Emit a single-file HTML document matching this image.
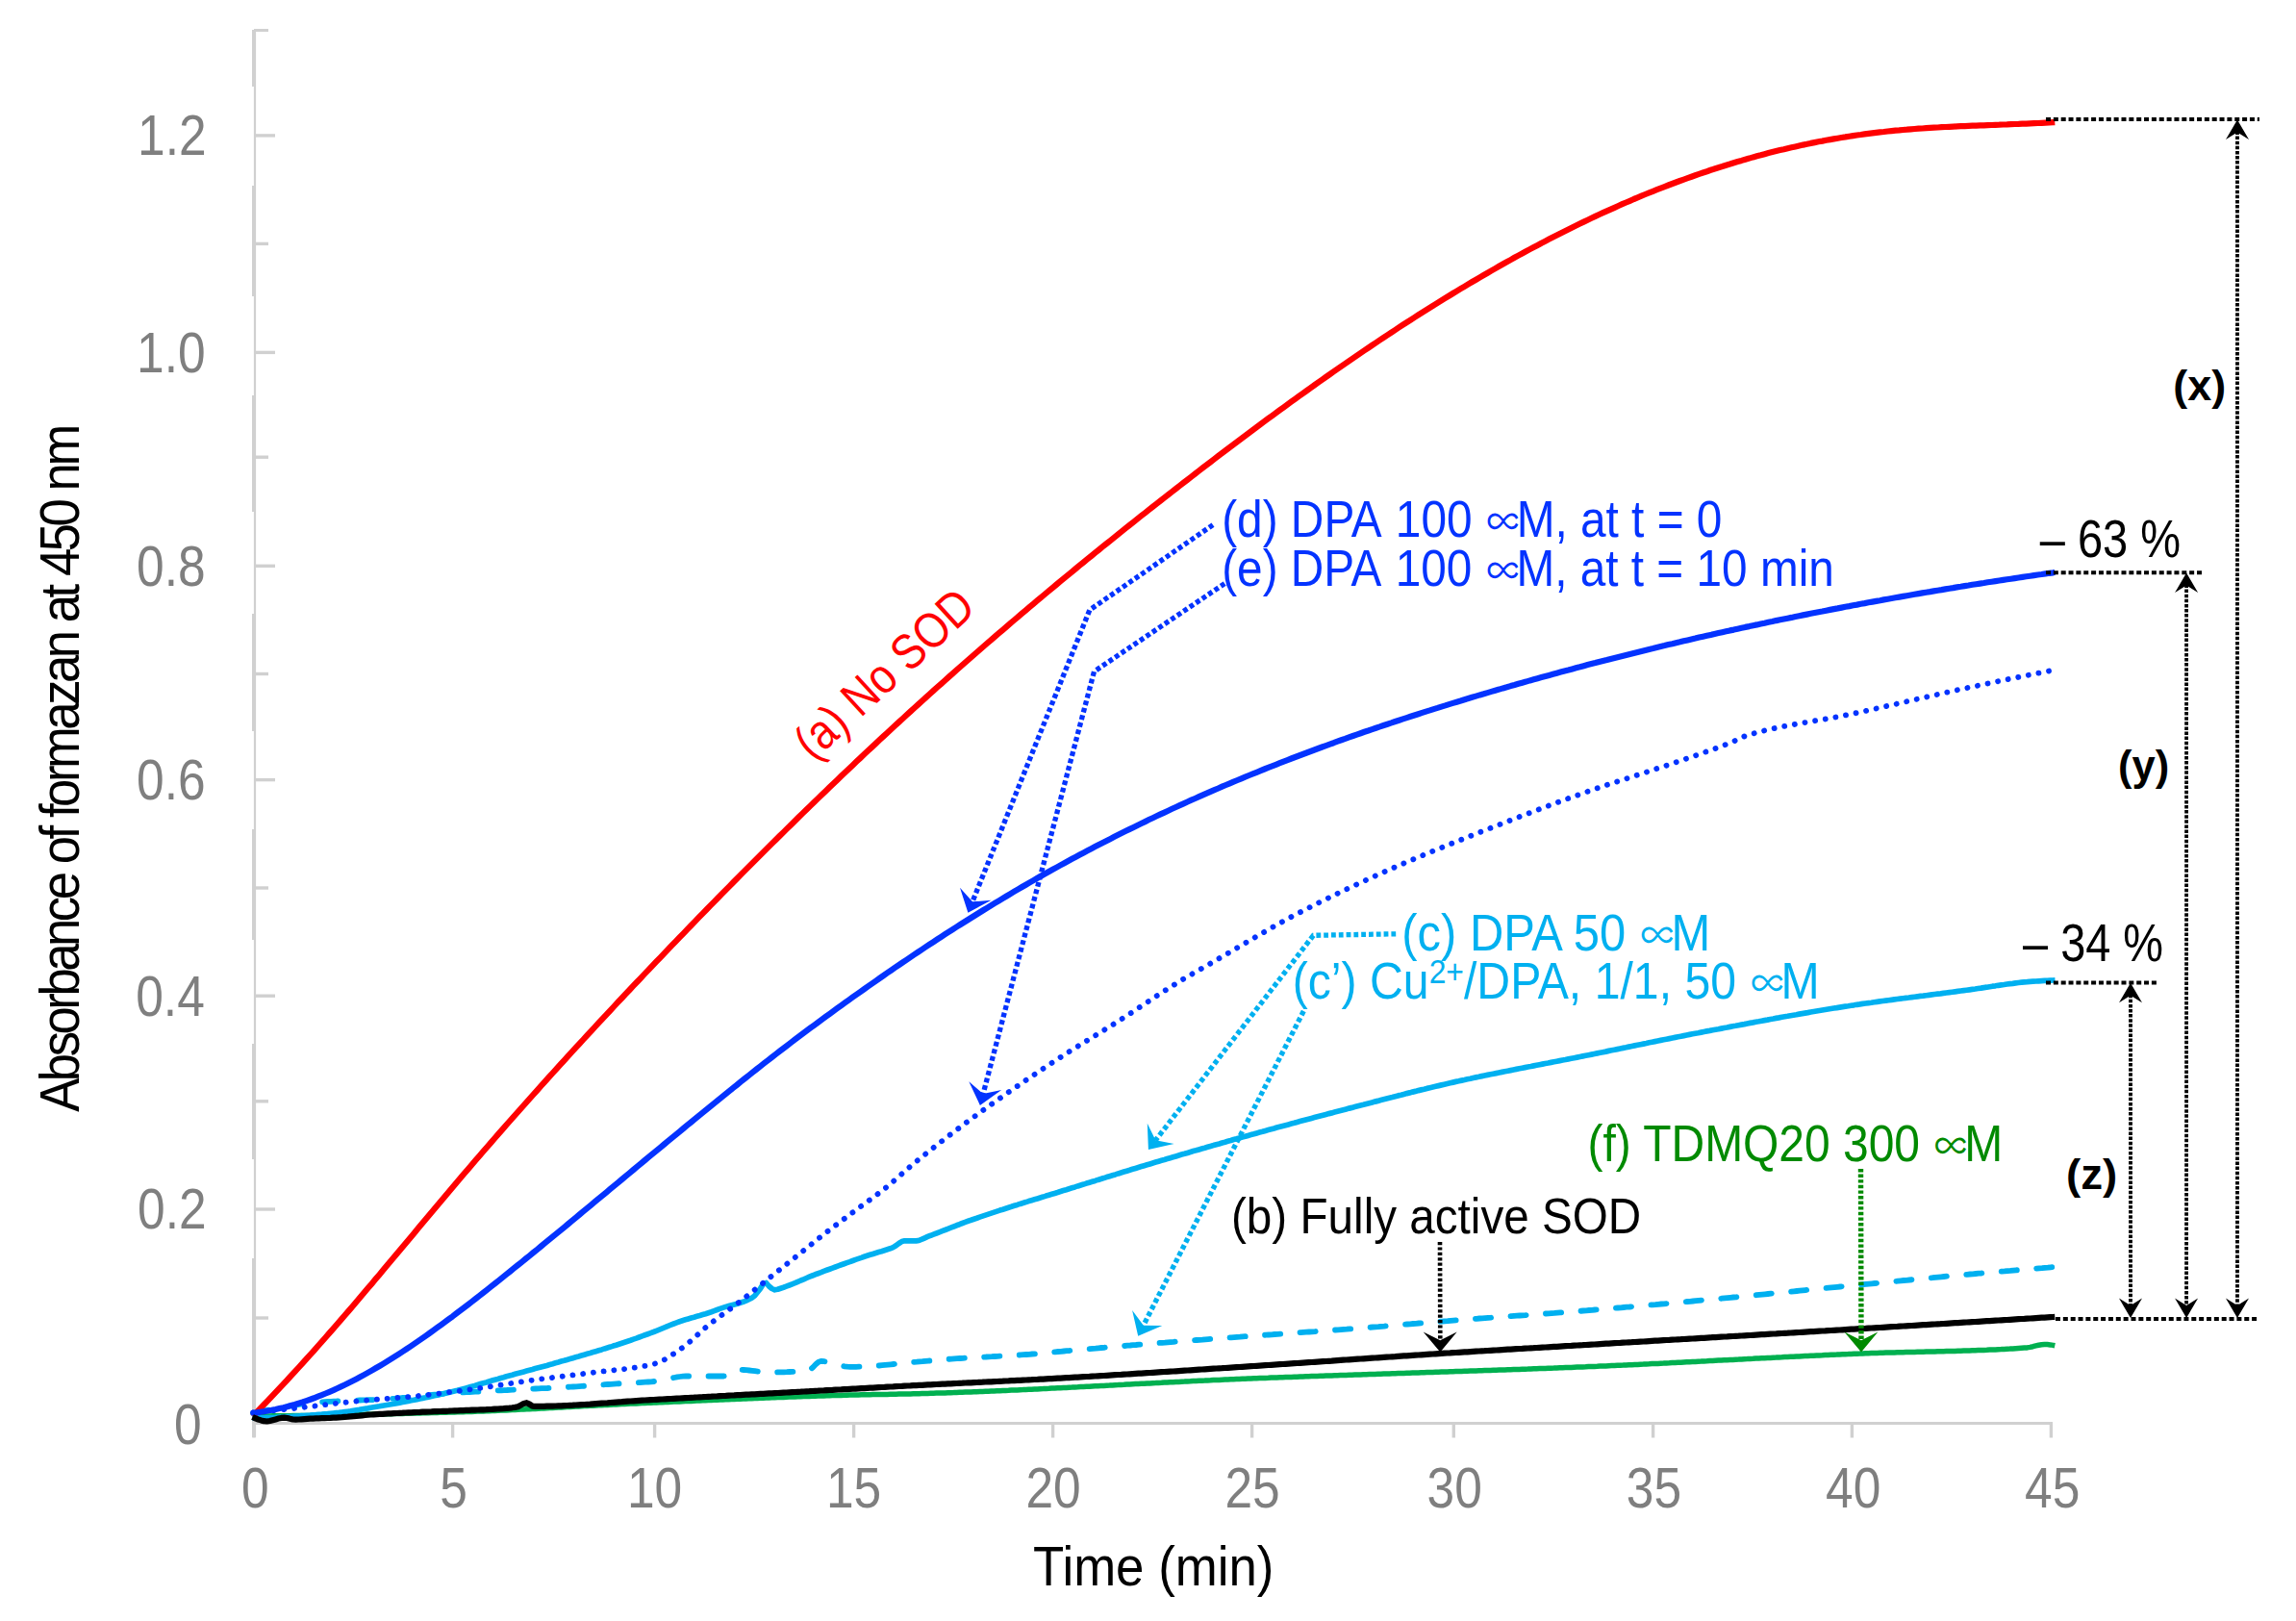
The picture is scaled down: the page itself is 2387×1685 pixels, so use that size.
<!DOCTYPE html>
<html><head><meta charset="utf-8"><title>Absorbance of formazan at 450 nm</title>
<style>html,body{margin:0;padding:0;background:#fff}svg text{font-family:"Liberation Sans", "DejaVu Sans", sans-serif;}.pr{font-family:"Liberation Sans","IPAGothic",sans-serif;font-size:0.8em}</style></head>
<body>
<svg width="2387" height="1685" viewBox="0 0 2387 1685" style="display:block">
<rect width="2387" height="1685" fill="#fff"/>
<g stroke="#d0d0d0" fill="none">
<path d="M265,31 V1494" stroke-width="2.2"/>
<path d="M264,31 V90" stroke-width="4"/>
<path d="M264,193 V308" stroke-width="4"/>
<path d="M264,411 V532" stroke-width="4"/>
<path d="M264,638 V760" stroke-width="4"/>
<path d="M264,862 V977" stroke-width="4"/>
<path d="M264,1085 V1205" stroke-width="4"/>
<path d="M264,1308 V1494" stroke-width="4"/>
<path d="M264,31.5 H279" stroke-width="3"/>
<path d="M265,140.9 H286" stroke-width="3.4"/>
<path d="M265,253.4 H279" stroke-width="3.4"/>
<path d="M265,366.4 H286" stroke-width="3.4"/>
<path d="M265,475.2 H279" stroke-width="3.4"/>
<path d="M265,588.3 H286" stroke-width="3.4"/>
<path d="M265,700.5 H279" stroke-width="3.4"/>
<path d="M265,810.6 H286" stroke-width="3.4"/>
<path d="M265,923.0 H279" stroke-width="3.4"/>
<path d="M265,1035.2 H286" stroke-width="3.4"/>
<path d="M265,1144.8 H279" stroke-width="3.4"/>
<path d="M265,1257.0 H286" stroke-width="3.4"/>
<path d="M265,1370.0 H279" stroke-width="3.4"/>
<path d="M263,1479.5 H2134" stroke-width="3.2"/>
<path d="M264,1479 V1494.5" stroke-width="3.4"/>
<path d="M470.6,1479 V1494.5" stroke-width="3.4"/>
<path d="M680.6,1479 V1494.5" stroke-width="3.4"/>
<path d="M887.6,1479 V1494.5" stroke-width="3.4"/>
<path d="M1094.6,1479 V1494.5" stroke-width="3.4"/>
<path d="M1301.6,1479 V1494.5" stroke-width="3.4"/>
<path d="M1511.3,1479 V1494.5" stroke-width="3.4"/>
<path d="M1718.6,1479 V1494.5" stroke-width="3.4"/>
<path d="M1925.4,1479 V1494.5" stroke-width="3.4"/>
<path d="M2132.4,1479 V1494.5" stroke-width="3.4"/>
</g>
<g fill="none" stroke-linejoin="round">
<path d="M262.5,1472.0 L265.5,1472.0 L268.5,1472.0 L271.5,1471.9 L274.5,1471.9 L277.5,1471.9 L280.5,1471.9 L283.5,1471.8 L286.5,1471.8 L289.5,1471.8 L292.5,1471.8 L295.5,1471.7 L298.5,1471.7 L301.5,1471.7 L304.5,1471.6 L307.5,1471.6 L310.5,1471.5 L313.5,1471.5 L316.5,1471.5 L319.5,1471.4 L322.5,1471.4 L325.5,1471.3 L328.5,1471.3 L331.5,1471.2 L334.5,1471.2 L337.5,1471.1 L340.5,1471.1 L343.5,1471.0 L346.5,1471.0 L349.5,1470.9 L352.5,1470.8 L355.5,1470.8 L358.5,1470.7 L361.5,1470.7 L364.5,1470.6 L367.5,1470.5 L370.5,1470.5 L373.5,1470.4 L376.5,1470.4 L379.5,1470.3 L382.5,1470.2 L385.5,1470.2 L388.5,1470.1 L391.5,1470.0 L394.5,1469.9 L397.5,1469.9 L400.5,1469.8 L403.5,1469.7 L406.5,1469.7 L409.5,1469.6 L412.5,1469.5 L415.5,1469.4 L418.5,1469.4 L421.5,1469.3 L424.5,1469.2 L427.5,1469.1 L430.5,1469.1 L433.5,1469.0 L436.5,1468.9 L439.5,1468.8 L442.5,1468.7 L445.5,1468.7 L448.5,1468.6 L451.5,1468.5 L454.5,1468.4 L457.5,1468.3 L460.5,1468.3 L463.5,1468.2 L466.5,1468.1 L469.5,1468.0 L472.5,1467.9 L475.5,1467.8 L478.5,1467.8 L481.5,1467.7 L484.5,1467.6 L487.5,1467.5 L490.5,1467.4 L493.5,1467.2 L496.5,1467.1 L499.5,1467.0 L502.5,1466.9 L505.5,1466.8 L508.5,1466.7 L511.5,1466.5 L514.5,1466.4 L517.5,1466.3 L520.5,1466.1 L523.5,1466.0 L526.5,1465.9 L529.5,1465.7 L532.5,1465.6 L535.5,1465.4 L538.5,1465.3 L541.5,1465.1 L544.5,1465.0 L547.5,1464.8 L550.5,1464.7 L553.5,1464.5 L556.5,1464.4 L559.5,1464.2 L562.5,1464.1 L565.5,1463.9 L568.5,1463.8 L571.5,1463.6 L574.5,1463.4 L577.5,1463.3 L580.5,1463.1 L583.5,1463.0 L586.5,1462.8 L589.5,1462.6 L592.5,1462.5 L595.5,1462.3 L598.5,1462.1 L601.5,1462.0 L604.5,1461.8 L607.5,1461.6 L610.5,1461.5 L613.5,1461.3 L616.5,1461.2 L619.5,1461.0 L622.5,1460.8 L625.5,1460.7 L628.5,1460.5 L631.5,1460.4 L634.5,1460.2 L637.5,1460.0 L640.5,1459.9 L643.5,1459.7 L646.5,1459.6 L649.5,1459.4 L652.5,1459.3 L655.5,1459.1 L658.5,1459.0 L661.5,1458.9 L664.5,1458.7 L667.5,1458.6 L670.5,1458.4 L673.5,1458.3 L676.5,1458.2 L679.5,1458.0 L682.5,1457.9 L685.5,1457.8 L688.5,1457.7 L691.5,1457.5 L694.5,1457.4 L697.5,1457.3 L700.5,1457.1 L703.5,1457.0 L706.5,1456.9 L709.5,1456.8 L712.5,1456.6 L715.5,1456.5 L718.5,1456.4 L721.5,1456.2 L724.5,1456.1 L727.5,1456.0 L730.5,1455.8 L733.5,1455.7 L736.5,1455.6 L739.5,1455.4 L742.5,1455.3 L745.5,1455.2 L748.5,1455.1 L751.5,1454.9 L754.5,1454.8 L757.5,1454.7 L760.5,1454.5 L763.5,1454.4 L766.5,1454.3 L769.5,1454.2 L772.5,1454.0 L775.5,1453.9 L778.5,1453.8 L781.5,1453.7 L784.5,1453.5 L787.5,1453.4 L790.5,1453.3 L793.5,1453.2 L796.5,1453.1 L799.5,1452.9 L802.5,1452.8 L805.5,1452.7 L808.5,1452.6 L811.5,1452.5 L814.5,1452.4 L817.5,1452.2 L820.5,1452.1 L823.5,1452.0 L826.5,1451.9 L829.5,1451.8 L832.5,1451.7 L835.5,1451.6 L838.5,1451.5 L841.5,1451.4 L844.5,1451.3 L847.5,1451.2 L850.5,1451.1 L853.5,1451.0 L856.5,1450.9 L859.5,1450.8 L862.5,1450.7 L865.5,1450.6 L868.5,1450.5 L871.5,1450.5 L874.5,1450.4 L877.5,1450.3 L880.5,1450.2 L883.5,1450.1 L886.5,1450.1 L889.5,1450.0 L892.5,1449.9 L895.5,1449.8 L898.5,1449.8 L901.5,1449.7 L904.5,1449.7 L907.5,1449.6 L910.5,1449.6 L913.5,1449.5 L916.5,1449.5 L919.5,1449.4 L922.5,1449.4 L925.5,1449.3 L928.5,1449.2 L931.5,1449.2 L934.5,1449.1 L937.5,1449.1 L940.5,1449.0 L943.5,1449.0 L946.5,1448.9 L949.5,1448.8 L952.5,1448.7 L955.5,1448.7 L958.5,1448.6 L961.5,1448.5 L964.5,1448.4 L967.5,1448.3 L970.5,1448.2 L973.5,1448.1 L976.5,1448.0 L979.5,1448.0 L982.5,1447.9 L985.5,1447.8 L988.5,1447.7 L991.5,1447.6 L994.5,1447.4 L997.5,1447.3 L1000.5,1447.2 L1003.5,1447.1 L1006.5,1447.0 L1009.5,1446.9 L1012.5,1446.8 L1015.5,1446.7 L1018.5,1446.5 L1021.5,1446.4 L1024.5,1446.3 L1027.5,1446.2 L1030.5,1446.0 L1033.5,1445.9 L1036.5,1445.8 L1039.5,1445.7 L1042.5,1445.5 L1045.5,1445.4 L1048.5,1445.3 L1051.5,1445.1 L1054.5,1445.0 L1057.5,1444.9 L1060.5,1444.7 L1063.5,1444.6 L1066.5,1444.4 L1069.5,1444.3 L1072.5,1444.2 L1075.5,1444.0 L1078.5,1443.9 L1081.5,1443.7 L1084.5,1443.6 L1087.5,1443.4 L1090.5,1443.3 L1093.5,1443.1 L1096.5,1443.0 L1099.5,1442.8 L1102.5,1442.7 L1105.5,1442.5 L1108.5,1442.4 L1111.5,1442.2 L1114.5,1442.1 L1117.5,1441.9 L1120.5,1441.8 L1123.5,1441.6 L1126.5,1441.5 L1129.5,1441.3 L1132.5,1441.2 L1135.5,1441.0 L1138.5,1440.8 L1141.5,1440.7 L1144.5,1440.5 L1147.5,1440.4 L1150.5,1440.2 L1153.5,1440.1 L1156.5,1439.9 L1159.5,1439.7 L1162.5,1439.6 L1165.5,1439.4 L1168.5,1439.3 L1171.5,1439.1 L1174.5,1439.0 L1177.5,1438.8 L1180.5,1438.6 L1183.5,1438.5 L1186.5,1438.3 L1189.5,1438.2 L1192.5,1438.0 L1195.5,1437.9 L1198.5,1437.7 L1201.5,1437.6 L1204.5,1437.4 L1207.5,1437.3 L1210.5,1437.1 L1213.5,1437.0 L1216.5,1436.8 L1219.5,1436.7 L1222.5,1436.5 L1225.5,1436.4 L1228.5,1436.2 L1231.5,1436.1 L1234.5,1435.9 L1237.5,1435.8 L1240.5,1435.6 L1243.5,1435.5 L1246.5,1435.3 L1249.5,1435.2 L1252.5,1435.1 L1255.5,1434.9 L1258.5,1434.8 L1261.5,1434.6 L1264.5,1434.5 L1267.5,1434.4 L1270.5,1434.2 L1273.5,1434.1 L1276.5,1434.0 L1279.5,1433.8 L1282.5,1433.7 L1285.5,1433.6 L1288.5,1433.5 L1291.5,1433.3 L1294.5,1433.2 L1297.5,1433.1 L1300.5,1433.0 L1303.5,1432.8 L1306.5,1432.7 L1309.5,1432.6 L1312.5,1432.5 L1315.5,1432.4 L1318.5,1432.3 L1321.5,1432.1 L1324.5,1432.0 L1327.5,1431.9 L1330.5,1431.8 L1333.5,1431.7 L1336.5,1431.6 L1339.5,1431.5 L1342.5,1431.4 L1345.5,1431.3 L1348.5,1431.2 L1351.5,1431.0 L1354.5,1430.9 L1357.5,1430.8 L1360.5,1430.7 L1363.5,1430.6 L1366.5,1430.5 L1369.5,1430.4 L1372.5,1430.3 L1375.5,1430.2 L1378.5,1430.1 L1381.5,1430.0 L1384.5,1429.9 L1387.5,1429.8 L1390.5,1429.7 L1393.5,1429.6 L1396.5,1429.5 L1399.5,1429.4 L1402.5,1429.3 L1405.5,1429.2 L1408.5,1429.1 L1411.5,1429.0 L1414.5,1428.9 L1417.5,1428.8 L1420.5,1428.7 L1423.5,1428.6 L1426.5,1428.5 L1429.5,1428.4 L1432.5,1428.3 L1435.5,1428.2 L1438.5,1428.1 L1441.5,1428.0 L1444.5,1427.9 L1447.5,1427.8 L1450.5,1427.7 L1453.5,1427.6 L1456.5,1427.5 L1459.5,1427.4 L1462.5,1427.3 L1465.5,1427.2 L1468.5,1427.1 L1471.5,1427.0 L1474.5,1426.9 L1477.5,1426.8 L1480.5,1426.7 L1483.5,1426.6 L1486.5,1426.5 L1489.5,1426.4 L1492.5,1426.3 L1495.5,1426.2 L1498.5,1426.1 L1501.5,1426.0 L1504.5,1425.9 L1507.5,1425.8 L1510.5,1425.7 L1513.5,1425.6 L1516.5,1425.5 L1519.5,1425.4 L1522.5,1425.3 L1525.5,1425.2 L1528.5,1425.1 L1531.5,1425.0 L1534.5,1424.9 L1537.5,1424.8 L1540.5,1424.7 L1543.5,1424.6 L1546.5,1424.5 L1549.5,1424.4 L1552.5,1424.3 L1555.5,1424.2 L1558.5,1424.1 L1561.5,1424.0 L1564.5,1423.9 L1567.5,1423.8 L1570.5,1423.7 L1573.5,1423.6 L1576.5,1423.5 L1579.5,1423.4 L1582.5,1423.3 L1585.5,1423.2 L1588.5,1423.1 L1591.5,1422.9 L1594.5,1422.8 L1597.5,1422.7 L1600.5,1422.6 L1603.5,1422.5 L1606.5,1422.4 L1609.5,1422.3 L1612.5,1422.2 L1615.5,1422.1 L1618.5,1421.9 L1621.5,1421.8 L1624.5,1421.7 L1627.5,1421.6 L1630.5,1421.5 L1633.5,1421.4 L1636.5,1421.2 L1639.5,1421.1 L1642.5,1421.0 L1645.5,1420.9 L1648.5,1420.8 L1651.5,1420.6 L1654.5,1420.5 L1657.5,1420.4 L1660.5,1420.3 L1663.5,1420.1 L1666.5,1420.0 L1669.5,1419.9 L1672.5,1419.7 L1675.5,1419.6 L1678.5,1419.5 L1681.5,1419.3 L1684.5,1419.2 L1687.5,1419.1 L1690.5,1418.9 L1693.5,1418.8 L1696.5,1418.7 L1699.5,1418.5 L1702.5,1418.4 L1705.5,1418.2 L1708.5,1418.1 L1711.5,1417.9 L1714.5,1417.8 L1717.5,1417.6 L1720.5,1417.5 L1723.5,1417.4 L1726.5,1417.2 L1729.5,1417.1 L1732.5,1416.9 L1735.5,1416.8 L1738.5,1416.6 L1741.5,1416.5 L1744.5,1416.3 L1747.5,1416.2 L1750.5,1416.0 L1753.5,1415.8 L1756.5,1415.7 L1759.5,1415.5 L1762.5,1415.4 L1765.5,1415.2 L1768.5,1415.1 L1771.5,1414.9 L1774.5,1414.8 L1777.5,1414.6 L1780.5,1414.5 L1783.5,1414.3 L1786.5,1414.1 L1789.5,1414.0 L1792.5,1413.8 L1795.5,1413.7 L1798.5,1413.5 L1801.5,1413.4 L1804.5,1413.2 L1807.5,1413.1 L1810.5,1412.9 L1813.5,1412.7 L1816.5,1412.6 L1819.5,1412.4 L1822.5,1412.3 L1825.5,1412.1 L1828.5,1412.0 L1831.5,1411.8 L1834.5,1411.7 L1837.5,1411.5 L1840.5,1411.4 L1843.5,1411.2 L1846.5,1411.1 L1849.5,1410.9 L1852.5,1410.8 L1855.5,1410.6 L1858.5,1410.5 L1861.5,1410.3 L1864.5,1410.2 L1867.5,1410.0 L1870.5,1409.9 L1873.5,1409.7 L1876.5,1409.6 L1879.5,1409.5 L1882.5,1409.3 L1885.5,1409.2 L1888.5,1409.0 L1891.5,1408.9 L1894.5,1408.8 L1897.5,1408.6 L1900.5,1408.5 L1903.5,1408.3 L1906.5,1408.2 L1909.5,1408.1 L1912.5,1407.9 L1915.5,1407.8 L1918.5,1407.7 L1921.5,1407.6 L1924.5,1407.4 L1927.5,1407.3 L1930.5,1407.2 L1933.5,1407.1 L1936.5,1406.9 L1939.5,1406.8 L1942.5,1406.7 L1945.5,1406.6 L1948.5,1406.5 L1951.5,1406.4 L1954.5,1406.3 L1957.5,1406.2 L1960.5,1406.1 L1963.5,1406.0 L1966.5,1406.0 L1969.5,1405.9 L1972.5,1405.8 L1975.5,1405.7 L1978.5,1405.7 L1981.5,1405.6 L1984.5,1405.5 L1987.5,1405.4 L1990.5,1405.4 L1993.5,1405.3 L1996.5,1405.2 L1999.5,1405.2 L2002.5,1405.1 L2005.5,1405.0 L2008.5,1405.0 L2011.5,1404.9 L2014.5,1404.8 L2017.5,1404.8 L2020.5,1404.7 L2023.5,1404.6 L2026.5,1404.5 L2029.5,1404.5 L2032.5,1404.4 L2035.5,1404.3 L2038.5,1404.2 L2041.5,1404.1 L2044.5,1404.0 L2047.5,1403.9 L2050.5,1403.8 L2053.5,1403.7 L2056.5,1403.6 L2059.5,1403.5 L2062.5,1403.4 L2065.5,1403.3 L2068.5,1403.1 L2071.5,1403.0 L2074.5,1402.9 L2077.5,1402.7 L2080.5,1402.6 L2083.5,1402.4 L2086.5,1402.2 L2089.5,1402.1 L2092.5,1401.9 L2095.5,1401.7 L2098.5,1401.5 L2101.5,1401.3 L2104.5,1401.1 L2107.5,1400.9 L2110.5,1400.4 L2113.5,1399.7 L2116.5,1398.9 L2119.5,1398.2 L2122.5,1397.7 L2125.5,1397.5 L2128.5,1397.6 L2131.5,1397.9 L2134.5,1398.4 L2136.3,1398.8" stroke="#00b050" stroke-width="5.5"/>
<path d="M263.0,1469.0 L266.0,1468.3 L269.0,1467.7 L272.0,1467.0 L275.0,1466.4 L278.0,1465.8 L281.0,1465.2 L284.0,1464.6 L287.0,1464.0 L290.0,1463.4 L293.0,1462.9 L296.0,1462.3 L299.0,1461.8 L302.0,1461.3 L305.0,1460.8 L308.0,1460.4 L311.0,1459.9 L314.0,1459.5 L317.0,1459.1 L320.0,1458.8 L323.0,1458.4 L326.0,1458.1 L329.0,1457.8 L332.0,1457.6 L335.0,1457.3 L338.0,1457.1 L341.0,1456.9 L344.0,1456.8 L347.0,1456.6 L350.0,1456.5 L353.0,1456.3 L356.0,1456.2 L359.0,1456.1 L362.0,1456.0 L365.0,1455.9 L368.0,1455.7 L371.0,1455.6 L374.0,1455.5 L377.0,1455.4 L380.0,1455.3 L383.0,1455.2 L386.0,1455.1 L389.0,1455.0 L392.0,1454.8 L395.0,1454.7 L398.0,1454.5 L401.0,1454.4 L404.0,1454.2 L407.0,1454.0 L410.0,1453.8 L413.0,1453.5 L416.0,1453.3 L419.0,1453.0 L422.0,1452.8 L425.0,1452.5 L428.0,1452.2 L431.0,1451.9 L434.0,1451.6 L437.0,1451.3 L440.0,1450.9 L443.0,1450.6 L446.0,1450.3 L449.0,1450.0 L452.0,1449.7 L455.0,1449.5 L458.0,1449.2 L461.0,1448.9 L464.0,1448.7 L467.0,1448.4 L470.0,1448.2 L473.0,1448.0 L476.0,1447.8 L479.0,1447.6 L482.0,1447.4 L485.0,1447.2 L488.0,1447.1 L491.0,1446.9 L494.0,1446.7 L497.0,1446.6 L500.0,1446.4 L503.0,1446.2 L506.0,1446.1 L509.0,1445.9 L512.0,1445.8 L515.0,1445.6 L518.0,1445.4 L521.0,1445.3 L524.0,1445.1 L527.0,1445.0 L530.0,1444.8 L533.0,1444.7 L536.0,1444.5 L539.0,1444.4 L542.0,1444.2 L545.0,1444.1 L548.0,1443.9 L551.0,1443.8 L554.0,1443.7 L557.0,1443.5 L560.0,1443.4 L563.0,1443.2 L566.0,1443.1 L569.0,1443.0 L572.0,1442.8 L575.0,1442.7 L578.0,1442.5 L581.0,1442.3 L584.0,1442.2 L587.0,1442.0 L590.0,1441.8 L593.0,1441.7 L596.0,1441.5 L599.0,1441.3 L602.0,1441.1 L605.0,1440.9 L608.0,1440.7 L611.0,1440.5 L614.0,1440.3 L617.0,1440.1 L620.0,1439.9 L623.0,1439.7 L626.0,1439.5 L629.0,1439.2 L632.0,1439.0 L635.0,1438.8 L638.0,1438.6 L641.0,1438.4 L644.0,1438.2 L647.0,1438.1 L650.0,1437.9 L653.0,1437.7 L656.0,1437.6 L659.0,1437.4 L662.0,1437.2 L665.0,1437.1 L668.0,1436.9 L671.0,1436.7 L674.0,1436.5 L677.0,1436.3 L680.0,1436.0 L683.0,1435.7 L686.0,1435.2 L689.0,1434.7 L692.0,1434.0 L695.0,1433.3 L698.0,1432.6 L701.0,1432.0 L704.0,1431.4 L707.0,1431.0 L710.0,1430.6 L713.0,1430.5 L716.0,1430.5 L719.0,1430.5 L722.0,1430.5 L725.0,1430.5 L728.0,1430.5 L731.0,1430.5 L734.0,1430.5 L737.0,1430.5 L740.0,1430.5 L743.0,1430.5 L746.0,1430.5 L749.0,1430.5 L752.0,1430.5 L755.0,1430.2 L758.0,1429.1 L761.0,1427.4 L764.0,1425.7 L767.0,1424.4 L770.0,1423.9 L773.0,1424.0 L776.0,1424.2 L779.0,1424.5 L782.0,1424.8 L785.0,1425.2 L788.0,1425.6 L791.0,1425.9 L794.0,1426.2 L797.0,1426.4 L800.0,1426.5 L803.0,1426.5 L806.0,1426.5 L809.0,1426.4 L812.0,1426.4 L815.0,1426.3 L818.0,1426.2 L821.0,1426.0 L824.0,1425.9 L827.0,1425.7 L830.0,1425.5 L833.0,1425.2 L836.0,1425.0 L839.0,1424.7 L842.0,1423.9 L845.0,1421.4 L848.0,1418.3 L851.0,1415.7 L854.0,1414.8 L857.0,1415.2 L860.0,1416.0 L863.0,1416.7 L866.0,1417.4 L869.0,1418.2 L872.0,1419.0 L875.0,1419.7 L878.0,1420.3 L881.0,1420.7 L884.0,1420.9 L887.0,1420.9 L890.0,1420.8 L893.0,1420.7 L896.0,1420.6 L899.0,1420.5 L902.0,1420.3 L905.0,1420.1 L908.0,1419.9 L911.0,1419.7 L914.0,1419.5 L917.0,1419.2 L920.0,1418.9 L923.0,1418.6 L926.0,1418.3 L929.0,1418.0 L932.0,1417.7 L935.0,1417.4 L938.0,1417.1 L941.0,1416.8 L944.0,1416.5 L947.0,1416.2 L950.0,1415.9 L953.0,1415.7 L956.0,1415.4 L959.0,1415.2 L962.0,1414.9 L965.0,1414.6 L968.0,1414.4 L971.0,1414.1 L974.0,1413.8 L977.0,1413.5 L980.0,1413.3 L983.0,1413.0 L986.0,1412.8 L989.0,1412.6 L992.0,1412.4 L995.0,1412.2 L998.0,1412.0 L1001.0,1411.8 L1004.0,1411.6 L1007.0,1411.4 L1010.0,1411.3 L1013.0,1411.1 L1016.0,1411.0 L1019.0,1410.8 L1022.0,1410.6 L1025.0,1410.5 L1028.0,1410.3 L1031.0,1410.2 L1034.0,1410.0 L1037.0,1409.8 L1040.0,1409.7 L1043.0,1409.5 L1046.0,1409.4 L1049.0,1409.2 L1052.0,1409.0 L1055.0,1408.8 L1058.0,1408.6 L1061.0,1408.4 L1064.0,1408.2 L1067.0,1408.0 L1070.0,1407.8 L1073.0,1407.5 L1076.0,1407.3 L1079.0,1407.0 L1082.0,1406.7 L1085.0,1406.4 L1088.0,1406.1 L1091.0,1405.8 L1094.0,1405.6 L1097.0,1405.3 L1100.0,1405.0 L1103.0,1404.8 L1106.0,1404.5 L1109.0,1404.2 L1112.0,1404.0 L1115.0,1403.7 L1118.0,1403.4 L1121.0,1403.2 L1124.0,1402.9 L1127.0,1402.6 L1130.0,1402.4 L1133.0,1402.1 L1136.0,1401.8 L1139.0,1401.6 L1142.0,1401.3 L1145.0,1401.0 L1148.0,1400.8 L1151.0,1400.5 L1154.0,1400.2 L1157.0,1400.0 L1160.0,1399.7 L1163.0,1399.5 L1166.0,1399.2 L1169.0,1399.0 L1172.0,1398.7 L1175.0,1398.5 L1178.0,1398.2 L1181.0,1398.0 L1184.0,1397.7 L1187.0,1397.5 L1190.0,1397.2 L1193.0,1397.0 L1196.0,1396.7 L1199.0,1396.5 L1202.0,1396.3 L1205.0,1396.0 L1208.0,1395.8 L1211.0,1395.6 L1214.0,1395.3 L1217.0,1395.1 L1220.0,1394.9 L1223.0,1394.6 L1226.0,1394.4 L1229.0,1394.2 L1232.0,1393.9 L1235.0,1393.7 L1238.0,1393.5 L1241.0,1393.3 L1244.0,1393.0 L1247.0,1392.8 L1250.0,1392.6 L1253.0,1392.3 L1256.0,1392.1 L1259.0,1391.9 L1262.0,1391.7 L1265.0,1391.5 L1268.0,1391.2 L1271.0,1391.0 L1274.0,1390.8 L1277.0,1390.6 L1280.0,1390.3 L1283.0,1390.1 L1286.0,1389.9 L1289.0,1389.7 L1292.0,1389.4 L1295.0,1389.2 L1298.0,1389.0 L1301.0,1388.8 L1304.0,1388.6 L1307.0,1388.3 L1310.0,1388.1 L1313.0,1387.9 L1316.0,1387.7 L1319.0,1387.5 L1322.0,1387.3 L1325.0,1387.0 L1328.0,1386.8 L1331.0,1386.6 L1334.0,1386.4 L1337.0,1386.2 L1340.0,1386.0 L1343.0,1385.8 L1346.0,1385.5 L1349.0,1385.3 L1352.0,1385.1 L1355.0,1384.9 L1358.0,1384.7 L1361.0,1384.5 L1364.0,1384.3 L1367.0,1384.1 L1370.0,1383.8 L1373.0,1383.6 L1376.0,1383.4 L1379.0,1383.2 L1382.0,1383.0 L1385.0,1382.8 L1388.0,1382.5 L1391.0,1382.3 L1394.0,1382.1 L1397.0,1381.9 L1400.0,1381.7 L1403.0,1381.4 L1406.0,1381.2 L1409.0,1381.0 L1412.0,1380.7 L1415.0,1380.5 L1418.0,1380.3 L1421.0,1380.0 L1424.0,1379.8 L1427.0,1379.5 L1430.0,1379.3 L1433.0,1379.1 L1436.0,1378.8 L1439.0,1378.6 L1442.0,1378.3 L1445.0,1378.1 L1448.0,1377.8 L1451.0,1377.6 L1454.0,1377.3 L1457.0,1377.1 L1460.0,1376.8 L1463.0,1376.5 L1466.0,1376.3 L1469.0,1376.0 L1472.0,1375.8 L1475.0,1375.5 L1478.0,1375.3 L1481.0,1375.0 L1484.0,1374.8 L1487.0,1374.5 L1490.0,1374.3 L1493.0,1374.0 L1496.0,1373.8 L1499.0,1373.6 L1502.0,1373.3 L1505.0,1373.1 L1508.0,1372.8 L1511.0,1372.6 L1514.0,1372.4 L1517.0,1372.1 L1520.0,1371.9 L1523.0,1371.7 L1526.0,1371.4 L1529.0,1371.2 L1532.0,1371.0 L1535.0,1370.8 L1538.0,1370.5 L1541.0,1370.3 L1544.0,1370.1 L1547.0,1369.9 L1550.0,1369.7 L1553.0,1369.4 L1556.0,1369.2 L1559.0,1369.0 L1562.0,1368.8 L1565.0,1368.6 L1568.0,1368.4 L1571.0,1368.1 L1574.0,1367.9 L1577.0,1367.7 L1580.0,1367.5 L1583.0,1367.3 L1586.0,1367.1 L1589.0,1366.8 L1592.0,1366.6 L1595.0,1366.4 L1598.0,1366.2 L1601.0,1366.0 L1604.0,1365.7 L1607.0,1365.5 L1610.0,1365.3 L1613.0,1365.1 L1616.0,1364.9 L1619.0,1364.6 L1622.0,1364.4 L1625.0,1364.2 L1628.0,1363.9 L1631.0,1363.7 L1634.0,1363.5 L1637.0,1363.2 L1640.0,1363.0 L1643.0,1362.8 L1646.0,1362.5 L1649.0,1362.3 L1652.0,1362.0 L1655.0,1361.8 L1658.0,1361.5 L1661.0,1361.3 L1664.0,1361.0 L1667.0,1360.8 L1670.0,1360.5 L1673.0,1360.3 L1676.0,1360.0 L1679.0,1359.8 L1682.0,1359.5 L1685.0,1359.3 L1688.0,1359.0 L1691.0,1358.7 L1694.0,1358.5 L1697.0,1358.2 L1700.0,1357.9 L1703.0,1357.7 L1706.0,1357.4 L1709.0,1357.1 L1712.0,1356.9 L1715.0,1356.6 L1718.0,1356.3 L1721.0,1356.1 L1724.0,1355.8 L1727.0,1355.5 L1730.0,1355.3 L1733.0,1355.0 L1736.0,1354.7 L1739.0,1354.4 L1742.0,1354.2 L1745.0,1353.9 L1748.0,1353.6 L1751.0,1353.3 L1754.0,1353.0 L1757.0,1352.8 L1760.0,1352.5 L1763.0,1352.2 L1766.0,1351.9 L1769.0,1351.6 L1772.0,1351.4 L1775.0,1351.1 L1778.0,1350.8 L1781.0,1350.5 L1784.0,1350.2 L1787.0,1350.0 L1790.0,1349.7 L1793.0,1349.4 L1796.0,1349.1 L1799.0,1348.8 L1802.0,1348.5 L1805.0,1348.3 L1808.0,1348.0 L1811.0,1347.7 L1814.0,1347.4 L1817.0,1347.1 L1820.0,1346.8 L1823.0,1346.5 L1826.0,1346.2 L1829.0,1345.9 L1832.0,1345.6 L1835.0,1345.3 L1838.0,1345.0 L1841.0,1344.7 L1844.0,1344.4 L1847.0,1344.1 L1850.0,1343.8 L1853.0,1343.5 L1856.0,1343.2 L1859.0,1342.9 L1862.0,1342.6 L1865.0,1342.3 L1868.0,1342.0 L1871.0,1341.7 L1874.0,1341.4 L1877.0,1341.1 L1880.0,1340.8 L1883.0,1340.5 L1886.0,1340.2 L1889.0,1339.9 L1892.0,1339.6 L1895.0,1339.3 L1898.0,1339.0 L1901.0,1338.7 L1904.0,1338.4 L1907.0,1338.1 L1910.0,1337.8 L1913.0,1337.5 L1916.0,1337.2 L1919.0,1336.9 L1922.0,1336.6 L1925.0,1336.3 L1928.0,1336.0 L1931.0,1335.7 L1934.0,1335.5 L1937.0,1335.2 L1940.0,1334.9 L1943.0,1334.6 L1946.0,1334.3 L1949.0,1334.0 L1952.0,1333.7 L1955.0,1333.4 L1958.0,1333.1 L1961.0,1332.8 L1964.0,1332.5 L1967.0,1332.2 L1970.0,1331.9 L1973.0,1331.6 L1976.0,1331.3 L1979.0,1331.0 L1982.0,1330.8 L1985.0,1330.5 L1988.0,1330.2 L1991.0,1329.9 L1994.0,1329.6 L1997.0,1329.3 L2000.0,1329.0 L2003.0,1328.7 L2006.0,1328.4 L2009.0,1328.2 L2012.0,1327.9 L2015.0,1327.6 L2018.0,1327.3 L2021.0,1327.0 L2024.0,1326.7 L2027.0,1326.5 L2030.0,1326.2 L2033.0,1325.9 L2036.0,1325.6 L2039.0,1325.4 L2042.0,1325.1 L2045.0,1324.8 L2048.0,1324.5 L2051.0,1324.3 L2054.0,1324.0 L2057.0,1323.7 L2060.0,1323.5 L2063.0,1323.2 L2066.0,1322.9 L2069.0,1322.7 L2072.0,1322.4 L2075.0,1322.2 L2078.0,1321.9 L2081.0,1321.6 L2084.0,1321.4 L2087.0,1321.1 L2090.0,1320.9 L2093.0,1320.6 L2096.0,1320.3 L2099.0,1320.1 L2102.0,1319.8 L2105.0,1319.6 L2108.0,1319.3 L2111.0,1319.1 L2114.0,1318.8 L2117.0,1318.6 L2120.0,1318.3 L2123.0,1318.1 L2126.0,1317.8 L2129.0,1317.6 L2132.0,1317.3 L2135.0,1317.1 L2136.3,1317.0" stroke="#00b0f0" stroke-width="5.8" stroke-linecap="round" stroke-dasharray="16.2 20.4"/>
<path d="M262.5,1474.0 L265.5,1474.0 L268.5,1473.9 L271.5,1473.9 L274.5,1473.8 L277.5,1473.7 L280.5,1473.6 L283.5,1473.5 L286.5,1473.4 L289.5,1473.2 L292.5,1473.1 L295.5,1472.9 L298.5,1472.7 L301.5,1472.6 L304.5,1472.4 L307.5,1472.2 L310.5,1472.0 L313.5,1471.7 L316.5,1471.5 L319.5,1471.3 L322.5,1471.1 L325.5,1470.8 L328.5,1470.6 L331.5,1470.3 L334.5,1470.1 L337.5,1469.8 L340.5,1469.6 L343.5,1469.3 L346.5,1469.0 L349.5,1468.7 L352.5,1468.4 L355.5,1468.0 L358.5,1467.6 L361.5,1467.2 L364.5,1466.8 L367.5,1466.3 L370.5,1465.8 L373.5,1465.4 L376.5,1464.9 L379.5,1464.4 L382.5,1463.9 L385.5,1463.3 L388.5,1462.8 L391.5,1462.3 L394.5,1461.8 L397.5,1461.2 L400.5,1460.7 L403.5,1460.2 L406.5,1459.7 L409.5,1459.2 L412.5,1458.6 L415.5,1458.1 L418.5,1457.5 L421.5,1456.9 L424.5,1456.4 L427.5,1455.8 L430.5,1455.2 L433.5,1454.6 L436.5,1454.0 L439.5,1453.4 L442.5,1452.8 L445.5,1452.1 L448.5,1451.5 L451.5,1450.8 L454.5,1450.2 L457.5,1449.5 L460.5,1448.8 L463.5,1448.1 L466.5,1447.4 L469.5,1446.7 L472.5,1446.0 L475.5,1445.3 L478.5,1444.5 L481.5,1443.7 L484.5,1442.9 L487.5,1442.1 L490.5,1441.2 L493.5,1440.4 L496.5,1439.5 L499.5,1438.6 L502.5,1437.7 L505.5,1436.9 L508.5,1436.0 L511.5,1435.1 L514.5,1434.2 L517.5,1433.4 L520.5,1432.5 L523.5,1431.7 L526.5,1430.8 L529.5,1430.0 L532.5,1429.2 L535.5,1428.3 L538.5,1427.5 L541.5,1426.7 L544.5,1425.9 L547.5,1425.1 L550.5,1424.3 L553.5,1423.5 L556.5,1422.6 L559.5,1421.8 L562.5,1421.0 L565.5,1420.2 L568.5,1419.4 L571.5,1418.5 L574.5,1417.7 L577.5,1416.8 L580.5,1416.0 L583.5,1415.1 L586.5,1414.3 L589.5,1413.4 L592.5,1412.6 L595.5,1411.7 L598.5,1410.8 L601.5,1410.0 L604.5,1409.1 L607.5,1408.2 L610.5,1407.3 L613.5,1406.5 L616.5,1405.6 L619.5,1404.7 L622.5,1403.8 L625.5,1402.9 L628.5,1401.9 L631.5,1401.0 L634.5,1400.1 L637.5,1399.1 L640.5,1398.2 L643.5,1397.2 L646.5,1396.2 L649.5,1395.2 L652.5,1394.2 L655.5,1393.2 L658.5,1392.1 L661.5,1391.1 L664.5,1390.0 L667.5,1388.9 L670.5,1387.8 L673.5,1386.7 L676.5,1385.6 L679.5,1384.5 L682.5,1383.3 L685.5,1382.1 L688.5,1380.9 L691.5,1379.7 L694.5,1378.4 L697.5,1377.2 L700.5,1376.0 L703.5,1374.9 L706.5,1373.8 L709.5,1372.8 L712.5,1371.8 L715.5,1370.9 L718.5,1370.0 L721.5,1369.2 L724.5,1368.3 L727.5,1367.5 L730.5,1366.6 L733.5,1365.7 L736.5,1364.7 L739.5,1363.7 L742.5,1362.6 L745.5,1361.5 L748.5,1360.4 L751.5,1359.4 L754.5,1358.4 L757.5,1357.6 L760.5,1356.8 L763.5,1356.0 L766.5,1355.2 L769.5,1354.3 L772.5,1353.3 L775.5,1352.1 L778.5,1350.7 L781.5,1349.2 L784.5,1347.0 L787.5,1343.2 L790.5,1339.4 L793.5,1334.8 L796.5,1333.5 L799.5,1337.0 L802.5,1339.5 L805.5,1340.8 L808.5,1340.3 L811.5,1339.2 L814.5,1338.2 L817.5,1337.1 L820.5,1336.0 L823.5,1334.8 L826.5,1333.6 L829.5,1332.3 L832.5,1331.0 L835.5,1329.8 L838.5,1328.5 L841.5,1327.2 L844.5,1326.0 L847.5,1324.8 L850.5,1323.7 L853.5,1322.6 L856.5,1321.4 L859.5,1320.3 L862.5,1319.2 L865.5,1318.1 L868.5,1317.0 L871.5,1315.9 L874.5,1314.8 L877.5,1313.7 L880.5,1312.6 L883.5,1311.6 L886.5,1310.5 L889.5,1309.4 L892.5,1308.4 L895.5,1307.4 L898.5,1306.3 L901.5,1305.3 L904.5,1304.3 L907.5,1303.4 L910.5,1302.5 L913.5,1301.6 L916.5,1300.8 L919.5,1299.8 L922.5,1298.8 L925.5,1297.8 L928.5,1296.6 L931.5,1294.8 L934.5,1292.5 L937.5,1290.6 L940.5,1289.8 L943.5,1289.8 L946.5,1289.8 L949.5,1289.8 L952.5,1289.8 L955.5,1289.4 L958.5,1288.2 L961.5,1286.8 L964.5,1285.4 L967.5,1284.3 L970.5,1283.1 L973.5,1282.0 L976.5,1280.8 L979.5,1279.6 L982.5,1278.5 L985.5,1277.3 L988.5,1276.1 L991.5,1275.0 L994.5,1273.8 L997.5,1272.7 L1000.5,1271.5 L1003.5,1270.4 L1006.5,1269.3 L1009.5,1268.3 L1012.5,1267.2 L1015.5,1266.2 L1018.5,1265.1 L1021.5,1264.1 L1024.5,1263.1 L1027.5,1262.1 L1030.5,1261.1 L1033.5,1260.1 L1036.5,1259.1 L1039.5,1258.1 L1042.5,1257.2 L1045.5,1256.2 L1048.5,1255.2 L1051.5,1254.3 L1054.5,1253.3 L1057.5,1252.4 L1060.5,1251.4 L1063.5,1250.5 L1066.5,1249.6 L1069.5,1248.6 L1072.5,1247.7 L1075.5,1246.8 L1078.5,1245.9 L1081.5,1245.0 L1084.5,1244.1 L1087.5,1243.1 L1090.5,1242.2 L1093.5,1241.3 L1096.5,1240.4 L1099.5,1239.5 L1102.5,1238.5 L1105.5,1237.6 L1108.5,1236.7 L1111.5,1235.7 L1114.5,1234.8 L1117.5,1233.9 L1120.5,1232.9 L1123.5,1232.0 L1126.5,1231.1 L1129.5,1230.1 L1132.5,1229.2 L1135.5,1228.3 L1138.5,1227.4 L1141.5,1226.4 L1144.5,1225.5 L1147.5,1224.6 L1150.5,1223.6 L1153.5,1222.7 L1156.5,1221.8 L1159.5,1220.9 L1162.5,1219.9 L1165.5,1219.0 L1168.5,1218.1 L1171.5,1217.2 L1174.5,1216.3 L1177.5,1215.3 L1180.5,1214.4 L1183.5,1213.5 L1186.5,1212.6 L1189.5,1211.7 L1192.5,1210.8 L1195.5,1209.9 L1198.5,1209.0 L1201.5,1208.1 L1204.5,1207.2 L1207.5,1206.3 L1210.5,1205.5 L1213.5,1204.6 L1216.5,1203.7 L1219.5,1202.8 L1222.5,1201.9 L1225.5,1201.0 L1228.5,1200.1 L1231.5,1199.3 L1234.5,1198.4 L1237.5,1197.5 L1240.5,1196.6 L1243.5,1195.8 L1246.5,1194.9 L1249.5,1194.0 L1252.5,1193.2 L1255.5,1192.3 L1258.5,1191.4 L1261.5,1190.6 L1264.5,1189.7 L1267.5,1188.9 L1270.5,1188.0 L1273.5,1187.2 L1276.5,1186.3 L1279.5,1185.5 L1282.5,1184.6 L1285.5,1183.8 L1288.5,1182.9 L1291.5,1182.1 L1294.5,1181.3 L1297.5,1180.4 L1300.5,1179.6 L1303.5,1178.8 L1306.5,1177.9 L1309.5,1177.1 L1312.5,1176.3 L1315.5,1175.4 L1318.5,1174.6 L1321.5,1173.8 L1324.5,1173.0 L1327.5,1172.1 L1330.5,1171.3 L1333.5,1170.5 L1336.5,1169.7 L1339.5,1168.9 L1342.5,1168.1 L1345.5,1167.3 L1348.5,1166.4 L1351.5,1165.6 L1354.5,1164.8 L1357.5,1164.0 L1360.5,1163.2 L1363.5,1162.4 L1366.5,1161.6 L1369.5,1160.8 L1372.5,1160.0 L1375.5,1159.2 L1378.5,1158.4 L1381.5,1157.6 L1384.5,1156.9 L1387.5,1156.1 L1390.5,1155.3 L1393.5,1154.5 L1396.5,1153.7 L1399.5,1152.9 L1402.5,1152.1 L1405.5,1151.4 L1408.5,1150.6 L1411.5,1149.8 L1414.5,1149.0 L1417.5,1148.3 L1420.5,1147.5 L1423.5,1146.7 L1426.5,1145.9 L1429.5,1145.1 L1432.5,1144.4 L1435.5,1143.6 L1438.5,1142.8 L1441.5,1142.0 L1444.5,1141.2 L1447.5,1140.5 L1450.5,1139.7 L1453.5,1138.9 L1456.5,1138.2 L1459.5,1137.4 L1462.5,1136.6 L1465.5,1135.9 L1468.5,1135.1 L1471.5,1134.4 L1474.5,1133.6 L1477.5,1132.9 L1480.5,1132.2 L1483.5,1131.4 L1486.5,1130.7 L1489.5,1130.0 L1492.5,1129.3 L1495.5,1128.6 L1498.5,1127.9 L1501.5,1127.2 L1504.5,1126.5 L1507.5,1125.8 L1510.5,1125.1 L1513.5,1124.4 L1516.5,1123.8 L1519.5,1123.1 L1522.5,1122.5 L1525.5,1121.8 L1528.5,1121.2 L1531.5,1120.5 L1534.5,1119.9 L1537.5,1119.3 L1540.5,1118.6 L1543.5,1118.0 L1546.5,1117.4 L1549.5,1116.8 L1552.5,1116.2 L1555.5,1115.6 L1558.5,1115.0 L1561.5,1114.4 L1564.5,1113.8 L1567.5,1113.2 L1570.5,1112.6 L1573.5,1112.0 L1576.5,1111.4 L1579.5,1110.8 L1582.5,1110.2 L1585.5,1109.6 L1588.5,1109.0 L1591.5,1108.5 L1594.5,1107.9 L1597.5,1107.3 L1600.5,1106.7 L1603.5,1106.1 L1606.5,1105.5 L1609.5,1105.0 L1612.5,1104.4 L1615.5,1103.8 L1618.5,1103.2 L1621.5,1102.6 L1624.5,1102.0 L1627.5,1101.5 L1630.5,1100.9 L1633.5,1100.3 L1636.5,1099.7 L1639.5,1099.1 L1642.5,1098.5 L1645.5,1097.9 L1648.5,1097.3 L1651.5,1096.7 L1654.5,1096.1 L1657.5,1095.5 L1660.5,1094.9 L1663.5,1094.3 L1666.5,1093.7 L1669.5,1093.1 L1672.5,1092.4 L1675.5,1091.8 L1678.5,1091.2 L1681.5,1090.6 L1684.5,1090.0 L1687.5,1089.4 L1690.5,1088.8 L1693.5,1088.1 L1696.5,1087.5 L1699.5,1086.9 L1702.5,1086.3 L1705.5,1085.7 L1708.5,1085.1 L1711.5,1084.5 L1714.5,1083.8 L1717.5,1083.2 L1720.5,1082.6 L1723.5,1082.0 L1726.5,1081.4 L1729.5,1080.8 L1732.5,1080.2 L1735.5,1079.6 L1738.5,1079.0 L1741.5,1078.4 L1744.5,1077.8 L1747.5,1077.2 L1750.5,1076.6 L1753.5,1076.0 L1756.5,1075.4 L1759.5,1074.8 L1762.5,1074.2 L1765.5,1073.7 L1768.5,1073.1 L1771.5,1072.5 L1774.5,1071.9 L1777.5,1071.4 L1780.5,1070.8 L1783.5,1070.2 L1786.5,1069.7 L1789.5,1069.1 L1792.5,1068.5 L1795.5,1068.0 L1798.5,1067.4 L1801.5,1066.8 L1804.5,1066.3 L1807.5,1065.7 L1810.5,1065.1 L1813.5,1064.6 L1816.5,1064.0 L1819.5,1063.4 L1822.5,1062.9 L1825.5,1062.3 L1828.5,1061.8 L1831.5,1061.2 L1834.5,1060.6 L1837.5,1060.1 L1840.5,1059.5 L1843.5,1059.0 L1846.5,1058.4 L1849.5,1057.9 L1852.5,1057.3 L1855.5,1056.8 L1858.5,1056.3 L1861.5,1055.7 L1864.5,1055.2 L1867.5,1054.7 L1870.5,1054.1 L1873.5,1053.6 L1876.5,1053.1 L1879.5,1052.6 L1882.5,1052.0 L1885.5,1051.5 L1888.5,1051.0 L1891.5,1050.5 L1894.5,1050.0 L1897.5,1049.5 L1900.5,1049.0 L1903.5,1048.5 L1906.5,1048.0 L1909.5,1047.6 L1912.5,1047.1 L1915.5,1046.6 L1918.5,1046.1 L1921.5,1045.7 L1924.5,1045.2 L1927.5,1044.8 L1930.5,1044.3 L1933.5,1043.9 L1936.5,1043.4 L1939.5,1043.0 L1942.5,1042.6 L1945.5,1042.2 L1948.5,1041.7 L1951.5,1041.3 L1954.5,1040.9 L1957.5,1040.5 L1960.5,1040.1 L1963.5,1039.7 L1966.5,1039.3 L1969.5,1038.9 L1972.5,1038.5 L1975.5,1038.1 L1978.5,1037.7 L1981.5,1037.3 L1984.5,1037.0 L1987.5,1036.6 L1990.5,1036.2 L1993.5,1035.8 L1996.5,1035.4 L1999.5,1035.1 L2002.5,1034.7 L2005.5,1034.3 L2008.5,1033.9 L2011.5,1033.5 L2014.5,1033.1 L2017.5,1032.8 L2020.5,1032.4 L2023.5,1032.0 L2026.5,1031.6 L2029.5,1031.2 L2032.5,1030.8 L2035.5,1030.4 L2038.5,1030.0 L2041.5,1029.6 L2044.5,1029.2 L2047.5,1028.8 L2050.5,1028.4 L2053.5,1028.0 L2056.5,1027.5 L2059.5,1027.1 L2062.5,1026.6 L2065.5,1026.2 L2068.5,1025.7 L2071.5,1025.2 L2074.5,1024.8 L2077.5,1024.3 L2080.5,1023.9 L2083.5,1023.5 L2086.5,1023.0 L2089.5,1022.6 L2092.5,1022.3 L2095.5,1021.9 L2098.5,1021.5 L2101.5,1021.2 L2104.5,1020.9 L2107.5,1020.7 L2110.5,1020.4 L2113.5,1020.2 L2116.5,1020.0 L2119.5,1019.8 L2122.5,1019.6 L2125.5,1019.4 L2128.5,1019.3 L2131.5,1019.1 L2134.5,1019.0 L2136.5,1018.9" stroke="#00b0f0" stroke-width="5.7"/>
<path d="M262.5,1472.3 L266.5,1468.3 L270.5,1464.1 L274.5,1460.0 L278.5,1455.8 L282.5,1451.6 L286.5,1447.4 L290.5,1443.1 L294.5,1438.9 L298.5,1434.6 L302.5,1430.2 L306.5,1425.9 L310.5,1421.5 L314.5,1417.1 L318.5,1412.7 L322.5,1408.2 L326.5,1403.8 L330.5,1399.3 L334.5,1394.7 L338.5,1390.2 L342.5,1385.6 L346.5,1381.1 L350.5,1376.5 L354.5,1371.9 L358.5,1367.2 L362.5,1362.6 L366.5,1357.9 L370.5,1353.2 L374.5,1348.5 L378.5,1343.8 L382.5,1339.1 L386.5,1334.4 L390.5,1329.6 L394.5,1324.9 L398.5,1320.1 L402.5,1315.3 L406.5,1310.6 L410.5,1305.8 L414.5,1301.0 L418.5,1296.2 L422.5,1291.4 L426.5,1286.7 L430.5,1281.9 L434.5,1277.1 L438.5,1272.3 L442.5,1267.5 L446.5,1262.7 L450.5,1258.0 L454.5,1253.2 L458.5,1248.5 L462.5,1243.7 L466.5,1239.0 L470.5,1234.2 L474.5,1229.5 L478.5,1224.8 L482.5,1220.1 L486.5,1215.4 L490.5,1210.8 L494.5,1206.1 L498.5,1201.5 L502.5,1196.8 L506.5,1192.2 L510.5,1187.6 L514.5,1183.0 L518.5,1178.4 L522.5,1173.9 L526.5,1169.3 L530.5,1164.8 L534.5,1160.2 L538.5,1155.7 L542.5,1151.2 L546.5,1146.7 L550.5,1142.2 L554.5,1137.7 L558.5,1133.3 L562.5,1128.8 L566.5,1124.4 L570.5,1119.9 L574.5,1115.5 L578.5,1111.1 L582.5,1106.7 L586.5,1102.3 L590.5,1097.9 L594.5,1093.5 L598.5,1089.2 L602.5,1084.8 L606.5,1080.5 L610.5,1076.1 L614.5,1071.8 L618.5,1067.5 L622.5,1063.2 L626.5,1058.8 L630.5,1054.6 L634.5,1050.3 L638.5,1046.0 L642.5,1041.7 L646.5,1037.5 L650.5,1033.2 L654.5,1029.0 L658.5,1024.7 L662.5,1020.5 L666.5,1016.3 L670.5,1012.0 L674.5,1007.8 L678.5,1003.6 L682.5,999.4 L686.5,995.3 L690.5,991.1 L694.5,986.9 L698.5,982.7 L702.5,978.6 L706.5,974.4 L710.5,970.3 L714.5,966.1 L718.5,962.0 L722.5,957.9 L726.5,953.7 L730.5,949.6 L734.5,945.5 L738.5,941.4 L742.5,937.3 L746.5,933.3 L750.5,929.2 L754.5,925.1 L758.5,921.1 L762.5,917.0 L766.5,913.0 L770.5,908.9 L774.5,904.9 L778.5,900.9 L782.5,896.9 L786.5,892.9 L790.5,888.9 L794.5,884.9 L798.5,880.9 L802.5,876.9 L806.5,873.0 L810.5,869.0 L814.5,865.1 L818.5,861.1 L822.5,857.2 L826.5,853.3 L830.5,849.3 L834.5,845.4 L838.5,841.5 L842.5,837.6 L846.5,833.8 L850.5,829.9 L854.5,826.0 L858.5,822.2 L862.5,818.3 L866.5,814.5 L870.5,810.7 L874.5,806.8 L878.5,803.0 L882.5,799.2 L886.5,795.4 L890.5,791.6 L894.5,787.9 L898.5,784.1 L902.5,780.3 L906.5,776.6 L910.5,772.9 L914.5,769.1 L918.5,765.4 L922.5,761.7 L926.5,758.0 L930.5,754.3 L934.5,750.6 L938.5,747.0 L942.5,743.3 L946.5,739.6 L950.5,736.0 L954.5,732.4 L958.5,728.7 L962.5,725.1 L966.5,721.5 L970.5,717.9 L974.5,714.3 L978.5,710.8 L982.5,707.2 L986.5,703.6 L990.5,700.1 L994.5,696.5 L998.5,693.0 L1002.5,689.5 L1006.5,686.0 L1010.5,682.5 L1014.5,679.0 L1018.5,675.5 L1022.5,672.0 L1026.5,668.5 L1030.5,665.1 L1034.5,661.6 L1038.5,658.2 L1042.5,654.8 L1046.5,651.3 L1050.5,647.9 L1054.5,644.5 L1058.5,641.1 L1062.5,637.7 L1066.5,634.3 L1070.5,630.9 L1074.5,627.6 L1078.5,624.2 L1082.5,620.9 L1086.5,617.5 L1090.5,614.2 L1094.5,610.8 L1098.5,607.5 L1102.5,604.2 L1106.5,600.9 L1110.5,597.6 L1114.5,594.3 L1118.5,591.0 L1122.5,587.7 L1126.5,584.5 L1130.5,581.2 L1134.5,578.0 L1138.5,574.7 L1142.5,571.5 L1146.5,568.2 L1150.5,565.0 L1154.5,561.8 L1158.5,558.6 L1162.5,555.3 L1166.5,552.1 L1170.5,548.9 L1174.5,545.8 L1178.5,542.6 L1182.5,539.4 L1186.5,536.2 L1190.5,533.1 L1194.5,529.9 L1198.5,526.8 L1202.5,523.6 L1206.5,520.5 L1210.5,517.3 L1214.5,514.2 L1218.5,511.1 L1222.5,508.0 L1226.5,504.9 L1230.5,501.8 L1234.5,498.7 L1238.5,495.6 L1242.5,492.5 L1246.5,489.4 L1250.5,486.3 L1254.5,483.3 L1258.5,480.2 L1262.5,477.1 L1266.5,474.1 L1270.5,471.1 L1274.5,468.0 L1278.5,465.0 L1282.5,462.0 L1286.5,459.0 L1290.5,456.0 L1294.5,453.0 L1298.5,450.0 L1302.5,447.0 L1306.5,444.0 L1310.5,441.0 L1314.5,438.1 L1318.5,435.1 L1322.5,432.2 L1326.5,429.3 L1330.5,426.3 L1334.5,423.4 L1338.5,420.5 L1342.5,417.6 L1346.5,414.7 L1350.5,411.8 L1354.5,408.9 L1358.5,406.1 L1362.5,403.2 L1366.5,400.4 L1370.5,397.5 L1374.5,394.7 L1378.5,391.9 L1382.5,389.1 L1386.5,386.3 L1390.5,383.5 L1394.5,380.7 L1398.5,378.0 L1402.5,375.2 L1406.5,372.5 L1410.5,369.7 L1414.5,367.0 L1418.5,364.3 L1422.5,361.6 L1426.5,358.9 L1430.5,356.2 L1434.5,353.5 L1438.5,350.9 L1442.5,348.2 L1446.5,345.6 L1450.5,343.0 L1454.5,340.3 L1458.5,337.7 L1462.5,335.1 L1466.5,332.6 L1470.5,330.0 L1474.5,327.4 L1478.5,324.9 L1482.5,322.4 L1486.5,319.9 L1490.5,317.3 L1494.5,314.9 L1498.5,312.4 L1502.5,309.9 L1506.5,307.5 L1510.5,305.0 L1514.5,302.6 L1518.5,300.2 L1522.5,297.8 L1526.5,295.4 L1530.5,293.0 L1534.5,290.7 L1538.5,288.3 L1542.5,286.0 L1546.5,283.7 L1550.5,281.4 L1554.5,279.1 L1558.5,276.8 L1562.5,274.5 L1566.5,272.3 L1570.5,270.1 L1574.5,267.8 L1578.5,265.6 L1582.5,263.5 L1586.5,261.3 L1590.5,259.1 L1594.5,257.0 L1598.5,254.9 L1602.5,252.7 L1606.5,250.7 L1610.5,248.6 L1614.5,246.5 L1618.5,244.5 L1622.5,242.4 L1626.5,240.4 L1630.5,238.4 L1634.5,236.4 L1638.5,234.5 L1642.5,232.5 L1646.5,230.6 L1650.5,228.7 L1654.5,226.8 L1658.5,224.9 L1662.5,223.0 L1666.5,221.2 L1670.5,219.4 L1674.5,217.6 L1678.5,215.8 L1682.5,214.0 L1686.5,212.2 L1690.5,210.5 L1694.5,208.8 L1698.5,207.0 L1702.5,205.4 L1706.5,203.7 L1710.5,202.0 L1714.5,200.4 L1718.5,198.8 L1722.5,197.2 L1726.5,195.6 L1730.5,194.1 L1734.5,192.5 L1738.5,191.0 L1742.5,189.5 L1746.5,188.0 L1750.5,186.6 L1754.5,185.1 L1758.5,183.7 L1762.5,182.3 L1766.5,180.9 L1770.5,179.5 L1774.5,178.2 L1778.5,176.8 L1782.5,175.5 L1786.5,174.2 L1790.5,173.0 L1794.5,171.7 L1798.5,170.5 L1802.5,169.2 L1806.5,168.0 L1810.5,166.9 L1814.5,165.7 L1818.5,164.6 L1822.5,163.4 L1826.5,162.3 L1830.5,161.3 L1834.5,160.2 L1838.5,159.1 L1842.5,158.1 L1846.5,157.1 L1850.5,156.1 L1854.5,155.2 L1858.5,154.2 L1862.5,153.3 L1866.5,152.4 L1870.5,151.5 L1874.5,150.6 L1878.5,149.8 L1882.5,148.9 L1886.5,148.1 L1890.5,147.3 L1894.5,146.6 L1898.5,145.8 L1902.5,145.1 L1906.5,144.4 L1910.5,143.7 L1914.5,143.0 L1918.5,142.4 L1922.5,141.7 L1926.5,141.1 L1930.5,140.5 L1934.5,140.0 L1938.5,139.4 L1942.5,138.9 L1946.5,138.4 L1950.5,137.9 L1954.5,137.4 L1958.5,137.0 L1962.5,136.5 L1966.5,136.1 L1970.5,135.7 L1974.5,135.4 L1978.5,135.0 L1982.5,134.7 L1986.5,134.3 L1990.5,134.0 L1994.5,133.7 L1998.5,133.5 L2002.5,133.2 L2006.5,132.9 L2010.5,132.7 L2014.5,132.5 L2018.5,132.2 L2022.5,132.0 L2026.5,131.8 L2030.5,131.6 L2034.5,131.4 L2038.5,131.2 L2042.5,131.1 L2046.5,130.9 L2050.5,130.7 L2054.5,130.6 L2058.5,130.4 L2062.5,130.3 L2066.5,130.1 L2070.5,130.0 L2074.5,129.8 L2078.5,129.7 L2082.5,129.5 L2086.5,129.4 L2090.5,129.2 L2094.5,129.0 L2098.5,128.9 L2102.5,128.7 L2106.5,128.6 L2110.5,128.4 L2114.5,128.2 L2118.5,128.0 L2122.5,127.8 L2126.5,127.6 L2130.5,127.4 L2134.5,127.2 L2136.3,127.1" stroke="#ff0000" stroke-width="6.2"/>
<path d="M263.0,1468.5 L266.0,1468.2 L269.0,1467.9 L272.0,1467.6 L275.0,1467.3 L278.0,1466.9 L281.0,1466.6 L284.0,1466.3 L287.0,1466.0 L290.0,1465.7 L293.0,1465.4 L296.0,1465.0 L299.0,1464.7 L302.0,1464.4 L305.0,1464.1 L308.0,1463.7 L311.0,1463.4 L314.0,1463.1 L317.0,1462.7 L320.0,1462.4 L323.0,1462.0 L326.0,1461.7 L329.0,1461.3 L332.0,1461.0 L335.0,1460.6 L338.0,1460.2 L341.0,1459.9 L344.0,1459.5 L347.0,1459.1 L350.0,1458.8 L353.0,1458.4 L356.0,1458.1 L359.0,1457.8 L362.0,1457.4 L365.0,1457.1 L368.0,1456.8 L371.0,1456.5 L374.0,1456.2 L377.0,1455.9 L380.0,1455.7 L383.0,1455.4 L386.0,1455.1 L389.0,1454.9 L392.0,1454.7 L395.0,1454.4 L398.0,1454.2 L401.0,1453.9 L404.0,1453.7 L407.0,1453.5 L410.0,1453.2 L413.0,1453.0 L416.0,1452.7 L419.0,1452.5 L422.0,1452.2 L425.0,1452.0 L428.0,1451.7 L431.0,1451.4 L434.0,1451.1 L437.0,1450.8 L440.0,1450.5 L443.0,1450.1 L446.0,1449.8 L449.0,1449.4 L452.0,1449.1 L455.0,1448.7 L458.0,1448.4 L461.0,1448.0 L464.0,1447.6 L467.0,1447.2 L470.0,1446.8 L473.0,1446.4 L476.0,1446.0 L479.0,1445.6 L482.0,1445.2 L485.0,1444.8 L488.0,1444.4 L491.0,1444.0 L494.0,1443.6 L497.0,1443.2 L500.0,1442.8 L503.0,1442.3 L506.0,1441.9 L509.0,1441.4 L512.0,1441.0 L515.0,1440.5 L518.0,1440.1 L521.0,1439.6 L524.0,1439.1 L527.0,1438.7 L530.0,1438.2 L533.0,1437.7 L536.0,1437.3 L539.0,1436.8 L542.0,1436.4 L545.0,1435.9 L548.0,1435.5 L551.0,1435.1 L554.0,1434.6 L557.0,1434.2 L560.0,1433.8 L563.0,1433.4 L566.0,1433.0 L569.0,1432.7 L572.0,1432.3 L575.0,1431.9 L578.0,1431.5 L581.0,1431.2 L584.0,1430.8 L587.0,1430.4 L590.0,1430.1 L593.0,1429.7 L596.0,1429.3 L599.0,1429.0 L602.0,1428.6 L605.0,1428.2 L608.0,1427.8 L611.0,1427.5 L614.0,1427.1 L617.0,1426.7 L620.0,1426.3 L623.0,1425.9 L626.0,1425.6 L629.0,1425.3 L632.0,1424.9 L635.0,1424.6 L638.0,1424.3 L641.0,1424.0 L644.0,1423.6 L647.0,1423.3 L650.0,1423.0 L653.0,1422.6 L656.0,1422.2 L659.0,1421.8 L662.0,1421.3 L665.0,1420.9 L668.0,1420.3 L671.0,1419.8 L674.0,1419.2 L677.0,1418.5 L680.0,1417.8 L683.0,1417.0 L686.0,1415.8 L689.0,1414.3 L692.0,1412.7 L695.0,1410.8 L698.0,1408.8 L701.0,1406.8 L704.0,1404.7 L707.0,1402.6 L710.0,1400.5 L713.0,1398.2 L716.0,1395.7 L719.0,1393.1 L722.0,1390.4 L725.0,1387.7 L728.0,1384.9 L731.0,1382.3 L734.0,1379.6 L737.0,1377.1 L740.0,1374.8 L743.0,1372.5 L746.0,1370.2 L749.0,1368.0 L752.0,1365.8 L755.0,1363.6 L758.0,1361.4 L761.0,1359.2 L764.0,1357.0 L767.0,1354.7 L770.0,1352.4 L773.0,1350.0 L776.0,1347.7 L779.0,1345.3 L782.0,1342.9 L785.0,1340.4 L788.0,1338.0 L791.0,1335.6 L794.0,1333.2 L797.0,1330.7 L800.0,1328.3 L803.0,1325.9 L806.0,1323.5 L809.0,1321.1 L812.0,1318.7 L815.0,1316.3 L818.0,1313.9 L821.0,1311.5 L824.0,1309.1 L827.0,1306.7 L830.0,1304.3 L833.0,1301.9 L836.0,1299.5 L839.0,1297.1 L842.0,1294.7 L845.0,1292.2 L848.0,1289.8 L851.0,1287.4 L854.0,1285.0 L857.0,1282.7 L860.0,1280.3 L863.0,1278.0 L866.0,1275.7 L869.0,1273.5 L872.0,1271.2 L875.0,1269.0 L878.0,1266.7 L881.0,1264.5 L884.0,1262.2 L887.0,1260.0 L890.0,1257.8 L893.0,1255.5 L896.0,1253.3 L899.0,1251.1 L902.0,1248.9 L905.0,1246.7 L908.0,1244.5 L911.0,1242.3 L914.0,1240.0 L917.0,1237.7 L920.0,1235.4 L923.0,1232.9 L926.0,1230.4 L929.0,1227.8 L932.0,1225.2 L935.0,1222.5 L938.0,1219.9 L941.0,1217.2 L944.0,1214.6 L947.0,1212.0 L950.0,1209.5 L953.0,1207.0 L956.0,1204.6 L959.0,1202.2 L962.0,1199.8 L965.0,1197.4 L968.0,1195.0 L971.0,1192.6 L974.0,1190.3 L977.0,1187.9 L980.0,1185.6 L983.0,1183.3 L986.0,1180.9 L989.0,1178.6 L992.0,1176.4 L995.0,1174.1 L998.0,1171.8 L1001.0,1169.6 L1004.0,1167.3 L1007.0,1165.1 L1010.0,1162.9 L1013.0,1160.7 L1016.0,1158.5 L1019.0,1156.3 L1022.0,1154.1 L1025.0,1152.0 L1028.0,1149.8 L1031.0,1147.7 L1034.0,1145.5 L1037.0,1143.4 L1040.0,1141.3 L1043.0,1139.2 L1046.0,1137.1 L1049.0,1135.0 L1052.0,1132.9 L1055.0,1130.8 L1058.0,1128.8 L1061.0,1126.7 L1064.0,1124.7 L1067.0,1122.6 L1070.0,1120.6 L1073.0,1118.6 L1076.0,1116.6 L1079.0,1114.5 L1082.0,1112.5 L1085.0,1110.5 L1088.0,1108.6 L1091.0,1106.6 L1094.0,1104.6 L1097.0,1102.6 L1100.0,1100.7 L1103.0,1098.7 L1106.0,1096.8 L1109.0,1094.8 L1112.0,1092.9 L1115.0,1091.0 L1118.0,1089.2 L1121.0,1087.3 L1124.0,1085.4 L1127.0,1083.6 L1130.0,1081.7 L1133.0,1079.9 L1136.0,1078.0 L1139.0,1076.2 L1142.0,1074.3 L1145.0,1072.5 L1148.0,1070.6 L1151.0,1068.8 L1154.0,1066.9 L1157.0,1065.0 L1160.0,1063.2 L1163.0,1061.3 L1166.0,1059.3 L1169.0,1057.4 L1172.0,1055.4 L1175.0,1053.5 L1178.0,1051.5 L1181.0,1049.5 L1184.0,1047.5 L1187.0,1045.5 L1190.0,1043.5 L1193.0,1041.6 L1196.0,1039.6 L1199.0,1037.6 L1202.0,1035.6 L1205.0,1033.6 L1208.0,1031.7 L1211.0,1029.7 L1214.0,1027.8 L1217.0,1025.9 L1220.0,1024.0 L1223.0,1022.2 L1226.0,1020.3 L1229.0,1018.5 L1232.0,1016.7 L1235.0,1015.0 L1238.0,1013.2 L1241.0,1011.5 L1244.0,1009.7 L1247.0,1008.0 L1250.0,1006.3 L1253.0,1004.6 L1256.0,1002.9 L1259.0,1001.2 L1262.0,999.4 L1265.0,997.7 L1268.0,995.9 L1271.0,994.2 L1274.0,992.4 L1277.0,990.7 L1280.0,988.9 L1283.0,987.1 L1286.0,985.4 L1289.0,983.6 L1292.0,981.8 L1295.0,980.1 L1298.0,978.3 L1301.0,976.5 L1304.0,974.8 L1307.0,973.0 L1310.0,971.3 L1313.0,969.6 L1316.0,967.8 L1319.0,966.1 L1322.0,964.4 L1325.0,962.7 L1328.0,961.0 L1331.0,959.4 L1334.0,957.7 L1337.0,956.1 L1340.0,954.4 L1343.0,952.8 L1346.0,951.3 L1349.0,949.7 L1352.0,948.1 L1355.0,946.6 L1358.0,945.0 L1361.0,943.5 L1364.0,942.0 L1367.0,940.5 L1370.0,938.9 L1373.0,937.4 L1376.0,936.0 L1379.0,934.5 L1382.0,933.0 L1385.0,931.5 L1388.0,930.1 L1391.0,928.6 L1394.0,927.2 L1397.0,925.7 L1400.0,924.3 L1403.0,922.9 L1406.0,921.5 L1409.0,920.1 L1412.0,918.7 L1415.0,917.3 L1418.0,915.9 L1421.0,914.5 L1424.0,913.1 L1427.0,911.8 L1430.0,910.4 L1433.0,909.1 L1436.0,907.7 L1439.0,906.4 L1442.0,905.0 L1445.0,903.7 L1448.0,902.4 L1451.0,901.1 L1454.0,899.8 L1457.0,898.5 L1460.0,897.2 L1463.0,895.9 L1466.0,894.6 L1469.0,893.4 L1472.0,892.1 L1475.0,890.8 L1478.0,889.6 L1481.0,888.3 L1484.0,887.1 L1487.0,885.9 L1490.0,884.6 L1493.0,883.4 L1496.0,882.2 L1499.0,881.0 L1502.0,879.7 L1505.0,878.5 L1508.0,877.3 L1511.0,876.1 L1514.0,874.9 L1517.0,873.7 L1520.0,872.5 L1523.0,871.3 L1526.0,870.1 L1529.0,868.9 L1532.0,867.7 L1535.0,866.5 L1538.0,865.3 L1541.0,864.2 L1544.0,863.0 L1547.0,861.8 L1550.0,860.6 L1553.0,859.4 L1556.0,858.2 L1559.0,857.1 L1562.0,855.9 L1565.0,854.7 L1568.0,853.6 L1571.0,852.4 L1574.0,851.2 L1577.0,850.1 L1580.0,848.9 L1583.0,847.8 L1586.0,846.6 L1589.0,845.5 L1592.0,844.3 L1595.0,843.2 L1598.0,842.1 L1601.0,840.9 L1604.0,839.8 L1607.0,838.7 L1610.0,837.5 L1613.0,836.4 L1616.0,835.3 L1619.0,834.2 L1622.0,833.1 L1625.0,832.0 L1628.0,830.9 L1631.0,829.8 L1634.0,828.7 L1637.0,827.6 L1640.0,826.6 L1643.0,825.5 L1646.0,824.4 L1649.0,823.4 L1652.0,822.3 L1655.0,821.2 L1658.0,820.2 L1661.0,819.2 L1664.0,818.2 L1667.0,817.2 L1670.0,816.1 L1673.0,815.2 L1676.0,814.2 L1679.0,813.2 L1682.0,812.2 L1685.0,811.2 L1688.0,810.2 L1691.0,809.3 L1694.0,808.3 L1697.0,807.3 L1700.0,806.4 L1703.0,805.4 L1706.0,804.4 L1709.0,803.4 L1712.0,802.5 L1715.0,801.5 L1718.0,800.5 L1721.0,799.5 L1724.0,798.5 L1727.0,797.5 L1730.0,796.5 L1733.0,795.5 L1736.0,794.5 L1739.0,793.5 L1742.0,792.4 L1745.0,791.4 L1748.0,790.4 L1751.0,789.3 L1754.0,788.3 L1757.0,787.3 L1760.0,786.3 L1763.0,785.2 L1766.0,784.2 L1769.0,783.2 L1772.0,782.1 L1775.0,781.0 L1778.0,780.0 L1781.0,778.9 L1784.0,777.8 L1787.0,776.7 L1790.0,775.5 L1793.0,774.4 L1796.0,773.2 L1799.0,772.0 L1802.0,770.8 L1805.0,769.4 L1808.0,767.9 L1811.0,766.4 L1814.0,765.2 L1817.0,764.3 L1820.0,763.3 L1823.0,762.5 L1826.0,761.6 L1829.0,760.8 L1832.0,760.1 L1835.0,759.3 L1838.0,758.6 L1841.0,757.9 L1844.0,757.2 L1847.0,756.6 L1850.0,756.0 L1853.0,755.3 L1856.0,754.8 L1859.0,754.2 L1862.0,753.6 L1865.0,753.1 L1868.0,752.5 L1871.0,752.0 L1874.0,751.5 L1877.0,751.0 L1880.0,750.4 L1883.0,749.9 L1886.0,749.4 L1889.0,748.9 L1892.0,748.4 L1895.0,747.9 L1898.0,747.4 L1901.0,746.8 L1904.0,746.3 L1907.0,745.8 L1910.0,745.2 L1913.0,744.6 L1916.0,744.0 L1919.0,743.4 L1922.0,742.8 L1925.0,742.2 L1928.0,741.5 L1931.0,740.9 L1934.0,740.2 L1937.0,739.5 L1940.0,738.9 L1943.0,738.2 L1946.0,737.5 L1949.0,736.9 L1952.0,736.2 L1955.0,735.5 L1958.0,734.8 L1961.0,734.1 L1964.0,733.5 L1967.0,732.8 L1970.0,732.1 L1973.0,731.4 L1976.0,730.7 L1979.0,730.0 L1982.0,729.3 L1985.0,728.6 L1988.0,727.9 L1991.0,727.2 L1994.0,726.5 L1997.0,725.9 L2000.0,725.2 L2003.0,724.5 L2006.0,723.8 L2009.0,723.1 L2012.0,722.4 L2015.0,721.7 L2018.0,721.1 L2021.0,720.4 L2024.0,719.7 L2027.0,719.0 L2030.0,718.4 L2033.0,717.7 L2036.0,717.0 L2039.0,716.4 L2042.0,715.7 L2045.0,715.1 L2048.0,714.4 L2051.0,713.8 L2054.0,713.2 L2057.0,712.5 L2060.0,711.9 L2063.0,711.2 L2066.0,710.6 L2069.0,710.0 L2072.0,709.4 L2075.0,708.7 L2078.0,708.1 L2081.0,707.5 L2084.0,706.9 L2087.0,706.2 L2090.0,705.6 L2093.0,705.0 L2096.0,704.4 L2099.0,703.8 L2102.0,703.2 L2105.0,702.6 L2108.0,701.9 L2111.0,701.3 L2114.0,700.7 L2117.0,700.1 L2120.0,699.5 L2123.0,698.9 L2126.0,698.3 L2129.0,697.7 L2130.2,697.5" stroke="#0433ff" stroke-width="5.8" stroke-linecap="round" stroke-dasharray="0.1 10.7"/>
<path d="M262.5,1468.7 L266.5,1468.3 L270.5,1467.8 L274.5,1467.2 L278.5,1466.5 L282.5,1465.8 L286.5,1465.0 L290.5,1464.1 L294.5,1463.2 L298.5,1462.2 L302.5,1461.1 L306.5,1460.0 L310.5,1458.7 L314.5,1457.5 L318.5,1456.1 L322.5,1454.7 L326.5,1453.3 L330.5,1451.7 L334.5,1450.2 L338.5,1448.5 L342.5,1446.8 L346.5,1445.1 L350.5,1443.2 L354.5,1441.4 L358.5,1439.5 L362.5,1437.5 L366.5,1435.5 L370.5,1433.4 L374.5,1431.3 L378.5,1429.1 L382.5,1426.9 L386.5,1424.6 L390.5,1422.3 L394.5,1420.0 L398.5,1417.6 L402.5,1415.1 L406.5,1412.6 L410.5,1410.1 L414.5,1407.6 L418.5,1405.0 L422.5,1402.4 L426.5,1399.7 L430.5,1397.0 L434.5,1394.3 L438.5,1391.5 L442.5,1388.7 L446.5,1385.9 L450.5,1383.0 L454.5,1380.1 L458.5,1377.2 L462.5,1374.3 L466.5,1371.3 L470.5,1368.4 L474.5,1365.3 L478.5,1362.3 L482.5,1359.3 L486.5,1356.2 L490.5,1353.1 L494.5,1350.0 L498.5,1346.9 L502.5,1343.8 L506.5,1340.6 L510.5,1337.4 L514.5,1334.3 L518.5,1331.1 L522.5,1327.9 L526.5,1324.7 L530.5,1321.5 L534.5,1318.2 L538.5,1315.0 L542.5,1311.8 L546.5,1308.5 L550.5,1305.3 L554.5,1302.0 L558.5,1298.8 L562.5,1295.5 L566.5,1292.2 L570.5,1288.9 L574.5,1285.6 L578.5,1282.4 L582.5,1279.1 L586.5,1275.8 L590.5,1272.5 L594.5,1269.1 L598.5,1265.8 L602.5,1262.5 L606.5,1259.2 L610.5,1255.9 L614.5,1252.6 L618.5,1249.2 L622.5,1245.9 L626.5,1242.6 L630.5,1239.3 L634.5,1235.9 L638.5,1232.6 L642.5,1229.3 L646.5,1226.0 L650.5,1222.6 L654.5,1219.3 L658.5,1216.0 L662.5,1212.7 L666.5,1209.3 L670.5,1206.0 L674.5,1202.7 L678.5,1199.4 L682.5,1196.1 L686.5,1192.8 L690.5,1189.5 L694.5,1186.2 L698.5,1182.9 L702.5,1179.6 L706.5,1176.3 L710.5,1173.0 L714.5,1169.7 L718.5,1166.5 L722.5,1163.2 L726.5,1159.9 L730.5,1156.7 L734.5,1153.4 L738.5,1150.1 L742.5,1146.9 L746.5,1143.6 L750.5,1140.4 L754.5,1137.1 L758.5,1133.9 L762.5,1130.7 L766.5,1127.5 L770.5,1124.2 L774.5,1121.0 L778.5,1117.9 L782.5,1114.7 L786.5,1111.5 L790.5,1108.4 L794.5,1105.2 L798.5,1102.1 L802.5,1099.0 L806.5,1095.9 L810.5,1092.8 L814.5,1089.7 L818.5,1086.7 L822.5,1083.6 L826.5,1080.6 L830.5,1077.6 L834.5,1074.6 L838.5,1071.6 L842.5,1068.6 L846.5,1065.7 L850.5,1062.7 L854.5,1059.8 L858.5,1056.8 L862.5,1053.9 L866.5,1051.0 L870.5,1048.1 L874.5,1045.2 L878.5,1042.3 L882.5,1039.5 L886.5,1036.6 L890.5,1033.8 L894.5,1030.9 L898.5,1028.1 L902.5,1025.3 L906.5,1022.5 L910.5,1019.7 L914.5,1016.9 L918.5,1014.1 L922.5,1011.3 L926.5,1008.6 L930.5,1005.8 L934.5,1003.1 L938.5,1000.4 L942.5,997.7 L946.5,995.0 L950.5,992.3 L954.5,989.6 L958.5,987.0 L962.5,984.3 L966.5,981.7 L970.5,979.1 L974.5,976.4 L978.5,973.8 L982.5,971.2 L986.5,968.7 L990.5,966.1 L994.5,963.5 L998.5,961.0 L1002.5,958.5 L1006.5,956.0 L1010.5,953.5 L1014.5,951.0 L1018.5,948.5 L1022.5,946.0 L1026.5,943.6 L1030.5,941.1 L1034.5,938.7 L1038.5,936.3 L1042.5,933.9 L1046.5,931.5 L1050.5,929.1 L1054.5,926.7 L1058.5,924.4 L1062.5,922.0 L1066.5,919.7 L1070.5,917.4 L1074.5,915.1 L1078.5,912.8 L1082.5,910.5 L1086.5,908.3 L1090.5,906.0 L1094.5,903.8 L1098.5,901.6 L1102.5,899.4 L1106.5,897.2 L1110.5,895.0 L1114.5,892.8 L1118.5,890.7 L1122.5,888.5 L1126.5,886.4 L1130.5,884.3 L1134.5,882.2 L1138.5,880.1 L1142.5,878.0 L1146.5,876.0 L1150.5,873.9 L1154.5,871.9 L1158.5,869.8 L1162.5,867.8 L1166.5,865.8 L1170.5,863.8 L1174.5,861.9 L1178.5,859.9 L1182.5,857.9 L1186.5,856.0 L1190.5,854.1 L1194.5,852.1 L1198.5,850.2 L1202.5,848.3 L1206.5,846.4 L1210.5,844.6 L1214.5,842.7 L1218.5,840.8 L1222.5,839.0 L1226.5,837.2 L1230.5,835.4 L1234.5,833.5 L1238.5,831.7 L1242.5,830.0 L1246.5,828.2 L1250.5,826.4 L1254.5,824.7 L1258.5,822.9 L1262.5,821.2 L1266.5,819.5 L1270.5,817.7 L1274.5,816.0 L1278.5,814.3 L1282.5,812.7 L1286.5,811.0 L1290.5,809.3 L1294.5,807.7 L1298.5,806.0 L1302.5,804.4 L1306.5,802.8 L1310.5,801.1 L1314.5,799.5 L1318.5,797.9 L1322.5,796.4 L1326.5,794.8 L1330.5,793.2 L1334.5,791.6 L1338.5,790.1 L1342.5,788.5 L1346.5,787.0 L1350.5,785.5 L1354.5,784.0 L1358.5,782.5 L1362.5,781.0 L1366.5,779.5 L1370.5,778.0 L1374.5,776.5 L1378.5,775.1 L1382.5,773.6 L1386.5,772.2 L1390.5,770.7 L1394.5,769.3 L1398.5,767.9 L1402.5,766.4 L1406.5,765.0 L1410.5,763.6 L1414.5,762.2 L1418.5,760.8 L1422.5,759.5 L1426.5,758.1 L1430.5,756.7 L1434.5,755.4 L1438.5,754.0 L1442.5,752.7 L1446.5,751.4 L1450.5,750.0 L1454.5,748.7 L1458.5,747.4 L1462.5,746.1 L1466.5,744.8 L1470.5,743.5 L1474.5,742.2 L1478.5,740.9 L1482.5,739.6 L1486.5,738.4 L1490.5,737.1 L1494.5,735.9 L1498.5,734.6 L1502.5,733.4 L1506.5,732.1 L1510.5,730.9 L1514.5,729.7 L1518.5,728.5 L1522.5,727.2 L1526.5,726.0 L1530.5,724.8 L1534.5,723.6 L1538.5,722.4 L1542.5,721.3 L1546.5,720.1 L1550.5,718.9 L1554.5,717.7 L1558.5,716.6 L1562.5,715.4 L1566.5,714.3 L1570.5,713.1 L1574.5,712.0 L1578.5,710.8 L1582.5,709.7 L1586.5,708.6 L1590.5,707.4 L1594.5,706.3 L1598.5,705.2 L1602.5,704.1 L1606.5,703.0 L1610.5,701.9 L1614.5,700.8 L1618.5,699.7 L1622.5,698.6 L1626.5,697.5 L1630.5,696.5 L1634.5,695.4 L1638.5,694.3 L1642.5,693.3 L1646.5,692.2 L1650.5,691.1 L1654.5,690.1 L1658.5,689.1 L1662.5,688.0 L1666.5,687.0 L1670.5,686.0 L1674.5,684.9 L1678.5,683.9 L1682.5,682.9 L1686.5,681.9 L1690.5,680.9 L1694.5,679.9 L1698.5,678.9 L1702.5,677.9 L1706.5,676.9 L1710.5,675.9 L1714.5,674.9 L1718.5,674.0 L1722.5,673.0 L1726.5,672.0 L1730.5,671.1 L1734.5,670.1 L1738.5,669.2 L1742.5,668.2 L1746.5,667.3 L1750.5,666.3 L1754.5,665.4 L1758.5,664.5 L1762.5,663.6 L1766.5,662.6 L1770.5,661.7 L1774.5,660.8 L1778.5,659.9 L1782.5,659.0 L1786.5,658.1 L1790.5,657.2 L1794.5,656.3 L1798.5,655.4 L1802.5,654.6 L1806.5,653.7 L1810.5,652.8 L1814.5,651.9 L1818.5,651.1 L1822.5,650.2 L1826.5,649.4 L1830.5,648.5 L1834.5,647.7 L1838.5,646.8 L1842.5,646.0 L1846.5,645.1 L1850.5,644.3 L1854.5,643.5 L1858.5,642.7 L1862.5,641.9 L1866.5,641.0 L1870.5,640.2 L1874.5,639.4 L1878.5,638.6 L1882.5,637.8 L1886.5,637.0 L1890.5,636.2 L1894.5,635.5 L1898.5,634.7 L1902.5,633.9 L1906.5,633.1 L1910.5,632.4 L1914.5,631.6 L1918.5,630.8 L1922.5,630.1 L1926.5,629.3 L1930.5,628.6 L1934.5,627.8 L1938.5,627.1 L1942.5,626.3 L1946.5,625.6 L1950.5,624.9 L1954.5,624.2 L1958.5,623.4 L1962.5,622.7 L1966.5,622.0 L1970.5,621.3 L1974.5,620.6 L1978.5,619.9 L1982.5,619.2 L1986.5,618.5 L1990.5,617.8 L1994.5,617.1 L1998.5,616.4 L2002.5,615.7 L2006.5,615.1 L2010.5,614.4 L2014.5,613.7 L2018.5,613.1 L2022.5,612.4 L2026.5,611.7 L2030.5,611.1 L2034.5,610.4 L2038.5,609.8 L2042.5,609.1 L2046.5,608.5 L2050.5,607.8 L2054.5,607.2 L2058.5,606.6 L2062.5,606.0 L2066.5,605.3 L2070.5,604.7 L2074.5,604.1 L2078.5,603.5 L2082.5,602.9 L2086.5,602.3 L2090.5,601.7 L2094.5,601.1 L2098.5,600.5 L2102.5,599.9 L2106.5,599.3 L2110.5,598.7 L2114.5,598.1 L2118.5,597.5 L2122.5,597.0 L2126.5,596.4 L2130.5,595.8 L2134.5,595.3 L2136.3,595.0" stroke="#0433ff" stroke-width="6.2"/>
<path d="M262.5,1473.0 L265.5,1474.4 L268.5,1475.5 L271.5,1476.4 L274.5,1477.2 L277.5,1477.5 L280.5,1477.0 L283.5,1476.2 L286.5,1475.4 L289.5,1474.6 L292.5,1473.9 L295.5,1473.6 L298.5,1474.0 L301.5,1474.8 L304.5,1475.5 L307.5,1475.6 L310.5,1475.5 L313.5,1475.3 L316.5,1475.1 L319.5,1474.9 L322.5,1474.7 L325.5,1474.6 L328.5,1474.4 L331.5,1474.3 L334.5,1474.2 L337.5,1474.1 L340.5,1474.0 L343.5,1473.9 L346.5,1473.7 L349.5,1473.6 L352.5,1473.4 L355.5,1473.2 L358.5,1472.9 L361.5,1472.7 L364.5,1472.4 L367.5,1472.1 L370.5,1471.8 L373.5,1471.6 L376.5,1471.3 L379.5,1471.0 L382.5,1470.7 L385.5,1470.5 L388.5,1470.3 L391.5,1470.1 L394.5,1469.9 L397.5,1469.8 L400.5,1469.6 L403.5,1469.4 L406.5,1469.3 L409.5,1469.1 L412.5,1469.0 L415.5,1468.8 L418.5,1468.7 L421.5,1468.5 L424.5,1468.4 L427.5,1468.3 L430.5,1468.1 L433.5,1468.0 L436.5,1467.9 L439.5,1467.7 L442.5,1467.6 L445.5,1467.5 L448.5,1467.4 L451.5,1467.2 L454.5,1467.1 L457.5,1467.0 L460.5,1466.9 L463.5,1466.8 L466.5,1466.7 L469.5,1466.5 L472.5,1466.4 L475.5,1466.3 L478.5,1466.2 L481.5,1466.1 L484.5,1465.9 L487.5,1465.8 L490.5,1465.7 L493.5,1465.6 L496.5,1465.5 L499.5,1465.4 L502.5,1465.3 L505.5,1465.2 L508.5,1465.0 L511.5,1464.9 L514.5,1464.7 L517.5,1464.5 L520.5,1464.3 L523.5,1464.1 L526.5,1463.8 L529.5,1463.6 L532.5,1463.3 L535.5,1462.9 L538.5,1462.3 L541.5,1460.6 L544.5,1458.9 L547.5,1458.2 L550.5,1459.6 L553.5,1461.6 L556.5,1461.9 L559.5,1461.9 L562.5,1461.8 L565.5,1461.8 L568.5,1461.7 L571.5,1461.7 L574.5,1461.6 L577.5,1461.5 L580.5,1461.4 L583.5,1461.3 L586.5,1461.1 L589.5,1461.0 L592.5,1460.8 L595.5,1460.7 L598.5,1460.5 L601.5,1460.3 L604.5,1460.1 L607.5,1460.0 L610.5,1459.8 L613.5,1459.6 L616.5,1459.3 L619.5,1459.1 L622.5,1458.9 L625.5,1458.7 L628.5,1458.5 L631.5,1458.3 L634.5,1458.0 L637.5,1457.8 L640.5,1457.6 L643.5,1457.4 L646.5,1457.2 L649.5,1456.9 L652.5,1456.7 L655.5,1456.5 L658.5,1456.3 L661.5,1456.1 L664.5,1455.9 L667.5,1455.7 L670.5,1455.5 L673.5,1455.3 L676.5,1455.1 L679.5,1455.0 L682.5,1454.8 L685.5,1454.6 L688.5,1454.5 L691.5,1454.3 L694.5,1454.1 L697.5,1454.0 L700.5,1453.8 L703.5,1453.6 L706.5,1453.5 L709.5,1453.3 L712.5,1453.1 L715.5,1453.0 L718.5,1452.8 L721.5,1452.7 L724.5,1452.5 L727.5,1452.3 L730.5,1452.2 L733.5,1452.0 L736.5,1451.8 L739.5,1451.7 L742.5,1451.5 L745.5,1451.4 L748.5,1451.2 L751.5,1451.0 L754.5,1450.9 L757.5,1450.7 L760.5,1450.5 L763.5,1450.4 L766.5,1450.2 L769.5,1450.1 L772.5,1449.9 L775.5,1449.7 L778.5,1449.6 L781.5,1449.4 L784.5,1449.3 L787.5,1449.1 L790.5,1448.9 L793.5,1448.8 L796.5,1448.6 L799.5,1448.4 L802.5,1448.3 L805.5,1448.1 L808.5,1448.0 L811.5,1447.8 L814.5,1447.6 L817.5,1447.5 L820.5,1447.3 L823.5,1447.1 L826.5,1447.0 L829.5,1446.8 L832.5,1446.7 L835.5,1446.5 L838.5,1446.3 L841.5,1446.2 L844.5,1446.0 L847.5,1445.8 L850.5,1445.7 L853.5,1445.5 L856.5,1445.4 L859.5,1445.2 L862.5,1445.0 L865.5,1444.9 L868.5,1444.7 L871.5,1444.5 L874.5,1444.4 L877.5,1444.2 L880.5,1444.1 L883.5,1443.9 L886.5,1443.7 L889.5,1443.6 L892.5,1443.4 L895.5,1443.2 L898.5,1443.1 L901.5,1442.9 L904.5,1442.7 L907.5,1442.6 L910.5,1442.4 L913.5,1442.2 L916.5,1442.0 L919.5,1441.9 L922.5,1441.7 L925.5,1441.5 L928.5,1441.4 L931.5,1441.2 L934.5,1441.0 L937.5,1440.9 L940.5,1440.7 L943.5,1440.5 L946.5,1440.4 L949.5,1440.2 L952.5,1440.1 L955.5,1439.9 L958.5,1439.8 L961.5,1439.6 L964.5,1439.4 L967.5,1439.3 L970.5,1439.1 L973.5,1439.0 L976.5,1438.8 L979.5,1438.7 L982.5,1438.6 L985.5,1438.4 L988.5,1438.3 L991.5,1438.1 L994.5,1438.0 L997.5,1437.8 L1000.5,1437.7 L1003.5,1437.5 L1006.5,1437.4 L1009.5,1437.3 L1012.5,1437.1 L1015.5,1437.0 L1018.5,1436.8 L1021.5,1436.7 L1024.5,1436.5 L1027.5,1436.4 L1030.5,1436.3 L1033.5,1436.1 L1036.5,1436.0 L1039.5,1435.8 L1042.5,1435.7 L1045.5,1435.5 L1048.5,1435.4 L1051.5,1435.2 L1054.5,1435.1 L1057.5,1434.9 L1060.5,1434.8 L1063.5,1434.6 L1066.5,1434.5 L1069.5,1434.3 L1072.5,1434.2 L1075.5,1434.0 L1078.5,1433.9 L1081.5,1433.7 L1084.5,1433.6 L1087.5,1433.4 L1090.5,1433.2 L1093.5,1433.1 L1096.5,1432.9 L1099.5,1432.7 L1102.5,1432.6 L1105.5,1432.4 L1108.5,1432.2 L1111.5,1432.1 L1114.5,1431.9 L1117.5,1431.7 L1120.5,1431.6 L1123.5,1431.4 L1126.5,1431.2 L1129.5,1431.0 L1132.5,1430.9 L1135.5,1430.7 L1138.5,1430.5 L1141.5,1430.3 L1144.5,1430.1 L1147.5,1430.0 L1150.5,1429.8 L1153.5,1429.6 L1156.5,1429.4 L1159.5,1429.2 L1162.5,1429.0 L1165.5,1428.9 L1168.5,1428.7 L1171.5,1428.5 L1174.5,1428.3 L1177.5,1428.1 L1180.5,1427.9 L1183.5,1427.7 L1186.5,1427.6 L1189.5,1427.4 L1192.5,1427.2 L1195.5,1427.0 L1198.5,1426.8 L1201.5,1426.6 L1204.5,1426.4 L1207.5,1426.2 L1210.5,1426.0 L1213.5,1425.8 L1216.5,1425.6 L1219.5,1425.5 L1222.5,1425.3 L1225.5,1425.1 L1228.5,1424.9 L1231.5,1424.7 L1234.5,1424.5 L1237.5,1424.3 L1240.5,1424.1 L1243.5,1423.9 L1246.5,1423.7 L1249.5,1423.5 L1252.5,1423.3 L1255.5,1423.1 L1258.5,1422.9 L1261.5,1422.7 L1264.5,1422.5 L1267.5,1422.3 L1270.5,1422.2 L1273.5,1422.0 L1276.5,1421.8 L1279.5,1421.6 L1282.5,1421.4 L1285.5,1421.2 L1288.5,1421.0 L1291.5,1420.8 L1294.5,1420.6 L1297.5,1420.4 L1300.5,1420.2 L1303.5,1420.0 L1306.5,1419.8 L1309.5,1419.6 L1312.5,1419.4 L1315.5,1419.2 L1318.5,1419.0 L1321.5,1418.8 L1324.5,1418.6 L1327.5,1418.4 L1330.5,1418.2 L1333.5,1418.0 L1336.5,1417.8 L1339.5,1417.6 L1342.5,1417.4 L1345.5,1417.2 L1348.5,1417.0 L1351.5,1416.8 L1354.5,1416.6 L1357.5,1416.4 L1360.5,1416.2 L1363.5,1416.0 L1366.5,1415.8 L1369.5,1415.6 L1372.5,1415.4 L1375.5,1415.2 L1378.5,1415.0 L1381.5,1414.8 L1384.5,1414.6 L1387.5,1414.3 L1390.5,1414.1 L1393.5,1413.9 L1396.5,1413.7 L1399.5,1413.5 L1402.5,1413.3 L1405.5,1413.1 L1408.5,1412.9 L1411.5,1412.7 L1414.5,1412.5 L1417.5,1412.3 L1420.5,1412.1 L1423.5,1411.9 L1426.5,1411.7 L1429.5,1411.5 L1432.5,1411.3 L1435.5,1411.1 L1438.5,1410.9 L1441.5,1410.7 L1444.5,1410.5 L1447.5,1410.3 L1450.5,1410.1 L1453.5,1409.8 L1456.5,1409.6 L1459.5,1409.4 L1462.5,1409.3 L1465.5,1409.1 L1468.5,1408.9 L1471.5,1408.7 L1474.5,1408.5 L1477.5,1408.3 L1480.5,1408.1 L1483.5,1407.9 L1486.5,1407.7 L1489.5,1407.5 L1492.5,1407.3 L1495.5,1407.1 L1498.5,1406.9 L1501.5,1406.7 L1504.5,1406.5 L1507.5,1406.4 L1510.5,1406.2 L1513.5,1406.0 L1516.5,1405.8 L1519.5,1405.6 L1522.5,1405.4 L1525.5,1405.3 L1528.5,1405.1 L1531.5,1404.9 L1534.5,1404.7 L1537.5,1404.5 L1540.5,1404.3 L1543.5,1404.2 L1546.5,1404.0 L1549.5,1403.8 L1552.5,1403.6 L1555.5,1403.5 L1558.5,1403.3 L1561.5,1403.1 L1564.5,1402.9 L1567.5,1402.7 L1570.5,1402.6 L1573.5,1402.4 L1576.5,1402.2 L1579.5,1402.0 L1582.5,1401.9 L1585.5,1401.7 L1588.5,1401.5 L1591.5,1401.3 L1594.5,1401.2 L1597.5,1401.0 L1600.5,1400.8 L1603.5,1400.6 L1606.5,1400.5 L1609.5,1400.3 L1612.5,1400.1 L1615.5,1399.9 L1618.5,1399.8 L1621.5,1399.6 L1624.5,1399.4 L1627.5,1399.2 L1630.5,1399.0 L1633.5,1398.9 L1636.5,1398.7 L1639.5,1398.5 L1642.5,1398.3 L1645.5,1398.2 L1648.5,1398.0 L1651.5,1397.8 L1654.5,1397.6 L1657.5,1397.5 L1660.5,1397.3 L1663.5,1397.1 L1666.5,1396.9 L1669.5,1396.7 L1672.5,1396.6 L1675.5,1396.4 L1678.5,1396.2 L1681.5,1396.0 L1684.5,1395.9 L1687.5,1395.7 L1690.5,1395.5 L1693.5,1395.3 L1696.5,1395.2 L1699.5,1395.0 L1702.5,1394.8 L1705.5,1394.6 L1708.5,1394.5 L1711.5,1394.3 L1714.5,1394.1 L1717.5,1393.9 L1720.5,1393.7 L1723.5,1393.6 L1726.5,1393.4 L1729.5,1393.2 L1732.5,1393.0 L1735.5,1392.9 L1738.5,1392.7 L1741.5,1392.5 L1744.5,1392.3 L1747.5,1392.2 L1750.5,1392.0 L1753.5,1391.8 L1756.5,1391.6 L1759.5,1391.5 L1762.5,1391.3 L1765.5,1391.1 L1768.5,1390.9 L1771.5,1390.8 L1774.5,1390.6 L1777.5,1390.4 L1780.5,1390.2 L1783.5,1390.1 L1786.5,1389.9 L1789.5,1389.7 L1792.5,1389.5 L1795.5,1389.4 L1798.5,1389.2 L1801.5,1389.0 L1804.5,1388.8 L1807.5,1388.7 L1810.5,1388.5 L1813.5,1388.3 L1816.5,1388.1 L1819.5,1388.0 L1822.5,1387.8 L1825.5,1387.6 L1828.5,1387.4 L1831.5,1387.2 L1834.5,1387.1 L1837.5,1386.9 L1840.5,1386.7 L1843.5,1386.5 L1846.5,1386.4 L1849.5,1386.2 L1852.5,1386.0 L1855.5,1385.8 L1858.5,1385.7 L1861.5,1385.5 L1864.5,1385.3 L1867.5,1385.1 L1870.5,1385.0 L1873.5,1384.8 L1876.5,1384.6 L1879.5,1384.4 L1882.5,1384.2 L1885.5,1384.1 L1888.5,1383.9 L1891.5,1383.7 L1894.5,1383.5 L1897.5,1383.4 L1900.5,1383.2 L1903.5,1383.0 L1906.5,1382.8 L1909.5,1382.6 L1912.5,1382.5 L1915.5,1382.3 L1918.5,1382.1 L1921.5,1381.9 L1924.5,1381.7 L1927.5,1381.6 L1930.5,1381.4 L1933.5,1381.2 L1936.5,1381.0 L1939.5,1380.9 L1942.5,1380.7 L1945.5,1380.5 L1948.5,1380.3 L1951.5,1380.1 L1954.5,1380.0 L1957.5,1379.8 L1960.5,1379.6 L1963.5,1379.4 L1966.5,1379.2 L1969.5,1379.0 L1972.5,1378.9 L1975.5,1378.7 L1978.5,1378.5 L1981.5,1378.3 L1984.5,1378.1 L1987.5,1378.0 L1990.5,1377.8 L1993.5,1377.6 L1996.5,1377.4 L1999.5,1377.2 L2002.5,1377.1 L2005.5,1376.9 L2008.5,1376.7 L2011.5,1376.5 L2014.5,1376.3 L2017.5,1376.2 L2020.5,1376.0 L2023.5,1375.8 L2026.5,1375.6 L2029.5,1375.4 L2032.5,1375.2 L2035.5,1375.1 L2038.5,1374.9 L2041.5,1374.7 L2044.5,1374.5 L2047.5,1374.3 L2050.5,1374.1 L2053.5,1374.0 L2056.5,1373.8 L2059.5,1373.6 L2062.5,1373.4 L2065.5,1373.2 L2068.5,1373.1 L2071.5,1372.9 L2074.5,1372.7 L2077.5,1372.5 L2080.5,1372.3 L2083.5,1372.1 L2086.5,1372.0 L2089.5,1371.8 L2092.5,1371.6 L2095.5,1371.4 L2098.5,1371.2 L2101.5,1371.0 L2104.5,1370.9 L2107.5,1370.7 L2110.5,1370.5 L2113.5,1370.3 L2116.5,1370.1 L2119.5,1369.9 L2122.5,1369.7 L2125.5,1369.6 L2128.5,1369.4 L2131.5,1369.2 L2134.5,1369.0 L2136.3,1368.9" stroke="#000" stroke-width="6.2"/>
</g>
<path d="M1261.0,545.6 L1132.9,634.0 L1010.9,937.6" fill="none" stroke="#0433ff" stroke-width="5.3" stroke-dasharray="4.8 3"/>
<path d="M1006.4,948.7 L998.0,922.7 L1011.0,937.3 L1030.5,935.7 Z" fill="#0433ff"/>
<path d="M1273.2,606.6 L1137.5,698.0 L1022.0,1137.4" fill="none" stroke="#0433ff" stroke-width="5.3" stroke-dasharray="4.8 3"/>
<path d="M1018.9,1149.0 L1007.3,1124.2 L1022.0,1137.1 L1041.2,1133.1 Z" fill="#0433ff"/>
<path d="M1451.2,970.8 L1365.4,972.3 L1201.2,1185.5" fill="none" stroke="#00b0f0" stroke-width="5.3" stroke-dasharray="4.8 3"/>
<path d="M1193.9,1195.0 L1192.8,1167.7 L1201.4,1185.3 L1220.6,1189.0 Z" fill="#00b0f0"/>
<path d="M1355.3,1051.0 L1188.6,1378.0" fill="none" stroke="#00b0f0" stroke-width="5.3" stroke-dasharray="4.8 3"/>
<path d="M1183.2,1388.7 L1177.1,1362.0 L1188.8,1377.7 L1208.3,1377.9 Z" fill="#00b0f0"/>
<path d="M1497.0,1291.0 L1497.3,1393.5" fill="none" stroke="#000" stroke-width="4.6" stroke-dasharray="3.2 2.2"/>
<path d="M1497.3,1405.5 L1479.7,1384.5 L1497.3,1393.2 L1514.7,1384.5 Z" fill="#000"/>
<path d="M1934.5,1215.0 L1935.0,1393.5" fill="none" stroke="#008a00" stroke-width="5.4" stroke-dasharray="3.4 2.2"/>
<path d="M1935.0,1405.5 L1917.4,1384.5 L1935.0,1393.2 L1952.4,1384.5 Z" fill="#008a00"/>
<g stroke="#000" fill="none" stroke-width="4" stroke-dasharray="5 2.85">
<path d="M2127,124.1 H2349"/>
<path d="M2127,595.3 H2289"/>
<path d="M2127,1021.5 H2242"/>
<path d="M2137,1371 H2347.5"/>
</g>
<path d="M2326.0,136.5 L2326.0,1358.0" fill="none" stroke="#000" stroke-width="3.8" stroke-dasharray="3.5 1.6"/>
<path d="M2326.0,1370.0 L2314.0,1349.5 L2326.0,1357.0 L2338.0,1349.5 Z" fill="#000"/>
<path d="M2326.0,124.5 L2338.0,145.0 L2326.0,137.5 L2314.0,145.0 Z" fill="#000"/>
<path d="M2273.1,607.5 L2273.1,1358.0" fill="none" stroke="#000" stroke-width="3.8" stroke-dasharray="3.5 1.6"/>
<path d="M2273.1,1370.0 L2261.1,1349.5 L2273.1,1357.0 L2285.1,1349.5 Z" fill="#000"/>
<path d="M2273.1,595.5 L2285.1,616.0 L2273.1,608.5 L2261.1,616.0 Z" fill="#000"/>
<path d="M2215.0,1033.7 L2215.0,1358.0" fill="none" stroke="#000" stroke-width="3.8" stroke-dasharray="3.5 1.6"/>
<path d="M2215.0,1370.0 L2203.0,1349.5 L2215.0,1357.0 L2227.0,1349.5 Z" fill="#000"/>
<path d="M2215.0,1021.7 L2227.0,1042.2 L2215.0,1034.7 L2203.0,1042.2 Z" fill="#000"/>
<text transform="translate(143.0,161.3) scale(0.8800,1)" font-size="58.5" fill="#7f7f7f">1.2</text>
<text transform="translate(142.1,386.8) scale(0.8800,1)" font-size="58.5" fill="#7f7f7f">1.0</text>
<text transform="translate(142.1,608.7) scale(0.8800,1)" font-size="58.5" fill="#7f7f7f">0.8</text>
<text transform="translate(142.1,831.0) scale(0.8800,1)" font-size="58.5" fill="#7f7f7f">0.6</text>
<text transform="translate(141.2,1055.6) scale(0.8800,1)" font-size="58.5" fill="#7f7f7f">0.4</text>
<text transform="translate(143.0,1277.4) scale(0.8800,1)" font-size="58.5" fill="#7f7f7f">0.2</text>
<text transform="translate(180.9,1500.5) scale(0.8800,1)" font-size="58.5" fill="#7f7f7f">0</text>
<text transform="translate(251.1,1567.2) scale(0.8800,1)" font-size="58.5" fill="#7f7f7f">0</text>
<text transform="translate(457.3,1567.2) scale(0.8800,1)" font-size="58.5" fill="#7f7f7f">5</text>
<text transform="translate(651.9,1567.2) scale(0.8800,1)" font-size="58.5" fill="#7f7f7f">10</text>
<text transform="translate(858.9,1567.2) scale(0.8800,1)" font-size="58.5" fill="#7f7f7f">15</text>
<text transform="translate(1066.4,1567.2) scale(0.8800,1)" font-size="58.5" fill="#7f7f7f">20</text>
<text transform="translate(1273.4,1567.2) scale(0.8800,1)" font-size="58.5" fill="#7f7f7f">25</text>
<text transform="translate(1483.5,1567.2) scale(0.8800,1)" font-size="58.5" fill="#7f7f7f">30</text>
<text transform="translate(1690.8,1567.2) scale(0.8800,1)" font-size="58.5" fill="#7f7f7f">35</text>
<text transform="translate(1898.0,1567.2) scale(0.8800,1)" font-size="58.5" fill="#7f7f7f">40</text>
<text transform="translate(2105.0,1567.2) scale(0.8800,1)" font-size="58.5" fill="#7f7f7f">45</text>
<text transform="translate(1074.1,1647.8) scale(0.9267,1)" font-size="57" fill="#000">Time (min)</text>
<text transform="translate(82.0,1155.8) rotate(-90) scale(0.9220,1)" font-size="57" fill="#000" letter-spacing="-3.7">Absorbance of formazan at 450 nm</text>
<text transform="translate(845.4,792) rotate(-42.6) scale(0.8650,1)" font-size="51.5" fill="#ff0000">(a) No SOD</text>
<text transform="translate(1270.2,557.5) scale(0.9017,1)" font-size="53" fill="#0433ff">(d) DPA <tspan dx="4">100 </tspan><tspan class="pr">∝</tspan><tspan dx="-6">M, at t = 0</tspan></text>
<text transform="translate(1270.2,608.6) scale(0.9011,1)" font-size="53" fill="#0433ff">(e) DPA <tspan dx="4">100 </tspan><tspan class="pr">∝</tspan><tspan dx="-6">M, at t = 10 min</tspan></text>
<text transform="translate(1457.3,988.0) scale(0.9232,1)" font-size="53" fill="#00b0f0">(c) DPA 50 <tspan class="pr">∝</tspan><tspan dx="-6">M</tspan></text>
<text transform="translate(1343.7,1038.0) scale(0.9097,1)" font-size="53" fill="#00b0f0">(c’) Cu<tspan class="sup" dy="-16" font-size="35">2+</tspan><tspan dy="16">/DPA, 1/1, 50 </tspan><tspan class="pr">∝</tspan><tspan dx="-6">M</tspan></text>
<text transform="translate(1280.0,1282.0) scale(0.9075,1)" font-size="52.5" fill="#000">(b) Fully active SOD</text>
<text transform="translate(1650.5,1206.8) scale(0.9049,1)" font-size="53" fill="#008a00">(f) TDMQ20 300 <tspan class="pr">∝</tspan><tspan dx="-6">M</tspan></text>
<text transform="translate(2120.7,579.1) scale(0.8544,1)" font-size="55" fill="#000">– 63 %</text>
<text transform="translate(2103.0,999.4) scale(0.8533,1)" font-size="55" fill="#000">– 34 %</text>
<text transform="translate(2259.3,415.5) scale(0.9980,1)" font-size="45" fill="#000" font-weight="bold">(x)</text>
<text transform="translate(2202.1,810.5) scale(0.9667,1)" font-size="45" fill="#000" font-weight="bold">(y)</text>
<text transform="translate(2148.0,1236.0) scale(1.0167,1)" font-size="45" fill="#000" font-weight="bold">(z)</text>
</svg>
</body></html>
